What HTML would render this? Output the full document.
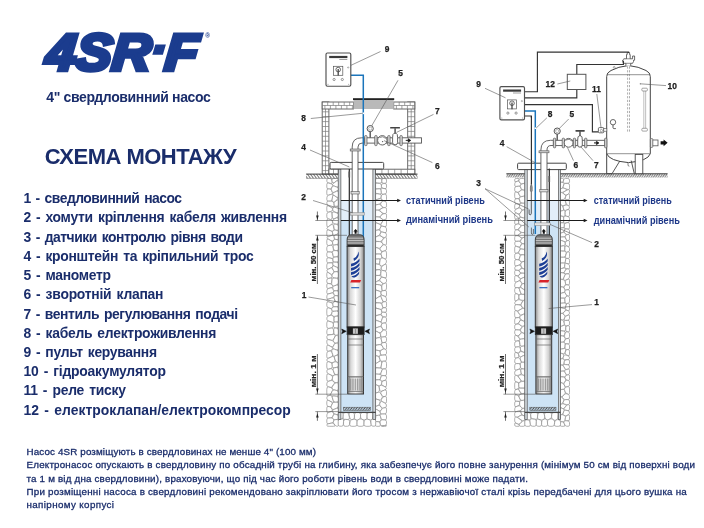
<!DOCTYPE html>
<html lang="uk"><head><meta charset="utf-8"><title>4SR-F</title>
<style>
html,body{margin:0;padding:0;background:#fff;}
body{width:704px;height:528px;position:relative;overflow:hidden;font-family:"Liberation Sans",sans-serif;color:#1a2d6b;}
.t{position:absolute;white-space:nowrap;line-height:1;}
.li{position:absolute;left:23.5px;word-spacing:1.5px;white-space:nowrap;font-weight:bold;font-size:13.9px;line-height:16px;height:16px;color:#1a2d6b;transform-origin:0 50%;}
.ft{position:absolute;left:26.5px;white-space:nowrap;font-size:9.8px;line-height:11px;height:11px;color:#1a2d6b;-webkit-text-stroke:0.3px #1a2d6b;transform-origin:0 50%;}
svg{position:absolute;left:0;top:0;}
</style></head><body><div id="wrap" style="position:absolute;left:0;top:0;width:704px;height:528px;will-change:transform;">

<svg width="704" height="528" viewBox="0 0 704 528" font-family="Liberation Sans, sans-serif">
<defs>
<pattern id="hatch" width="3" height="4.3" patternUnits="userSpaceOnUse"><path d="M-3 0L0 4.3M0 0L3 4.3M3 0L6 4.3" stroke="#6a6a6a" stroke-width="1"/></pattern>
<pattern id="hatch2g" width="2.3" height="3.7" patternUnits="userSpaceOnUse"><path d="M-2.3 3.7L0 0M0 3.7L2.3 0M2.3 3.7L4.6 0" stroke="#6a6a6a" stroke-width="0.9"/></pattern>
<pattern id="hatch2" width="2.6" height="3.2" patternUnits="userSpaceOnUse"><path d="M-0.6 3.2L2 0M2 3.2L4.6 0" stroke="#333" stroke-width="0.9"/></pattern>
<linearGradient id="silver" x1="0" x2="1" y1="0" y2="0"><stop offset="0" stop-color="#8c8c8c"/><stop offset="0.2" stop-color="#d9d9d9"/><stop offset="0.5" stop-color="#ffffff"/><stop offset="0.8" stop-color="#d2d2d2"/><stop offset="1" stop-color="#858585"/></linearGradient>
</defs>
<g fill="#fff" stroke="#808080" stroke-width="0.62" stroke-linejoin="round"><path d="M326.8 179.8Q326.8 178.5 328.3 178.5L330.1 178.5Q331.5 178.6 331.8 180.1L332.2 182.2Q332.5 183.7 330.8 183.4L328.6 182.9Q326.9 182.6 326.9 181.4Z"/><path d="M331.5 188.1Q331.1 189.1 329.8 189.0L328.1 188.9Q326.8 188.8 326.8 187.0L326.8 184.5Q326.8 182.7 328.5 183.1L330.7 183.7Q332.3 184.1 332.4 184.6L332.6 185.1Q332.7 185.5 332.2 186.6Z"/><path d="M332.5 193.6Q332.4 193.9 330.7 194.5L328.5 195.2Q326.8 195.8 326.8 193.8L326.8 191.0Q326.8 188.9 328.1 189.0L329.8 189.1Q331.1 189.3 331.5 190.4L332.2 191.9Q332.6 193.1 332.6 193.3Z"/><path d="M332.2 199.2Q331.8 201.2 330.3 201.1L328.3 201.1Q326.8 201.1 326.8 199.5L326.9 197.5Q326.9 195.9 328.5 195.3L330.8 194.5Q332.4 193.9 332.6 194.2L332.8 194.5Q332.9 194.7 332.6 196.6Z"/><path d="M333.2 207.7Q332.8 208.2 331.0 207.2L328.6 205.9Q326.9 204.9 326.9 203.8L326.9 202.3Q326.8 201.2 328.3 201.2L330.3 201.2Q331.8 201.3 332.4 201.6L333.2 202.1Q333.8 202.5 334.0 203.6L334.1 205.2Q334.2 206.3 333.8 206.9Z"/><path d="M328.5 212.1Q326.8 212.6 326.8 210.3L326.8 207.2Q326.8 204.9 328.6 206.0L331.0 207.3Q332.7 208.3 332.7 209.1L332.6 210.1Q332.5 210.9 330.8 211.4Z"/><path d="M332.1 217.4Q332.1 219.9 330.5 219.5L328.4 218.9Q326.9 218.5 326.8 216.8L326.8 214.4Q326.8 212.7 328.4 212.3L330.5 211.8Q332.0 211.4 332.0 214.0Z"/><path d="M328.6 226.5Q326.8 227.9 326.8 225.1L326.8 221.4Q326.8 218.6 328.4 219.0L330.5 219.6Q332.1 220.0 332.3 221.1L332.6 222.4Q332.8 223.5 331.0 224.8Z"/><path d="M332.8 230.9Q332.2 231.4 330.6 230.7L328.5 229.9Q326.9 229.3 326.9 228.9L326.9 228.3Q326.9 227.9 328.6 226.6L331.0 224.8Q332.8 223.5 333.2 225.5L333.8 228.0Q334.3 229.9 333.6 230.4Z"/><path d="M328.7 236.5Q326.8 237.1 326.8 234.8L326.8 231.7Q326.8 229.3 328.4 230.0L330.6 230.8Q332.2 231.5 332.4 232.5L332.8 233.9Q333.1 235.0 331.2 235.6Z"/><path d="M333.1 240.8Q332.4 241.5 330.8 240.5L328.5 239.2Q326.9 238.3 326.9 237.9L326.9 237.5Q326.9 237.2 328.7 236.6L331.2 235.7Q333.1 235.1 333.3 235.2L333.6 235.4Q333.8 235.5 334.0 236.6L334.3 238.1Q334.5 239.3 333.9 239.9Z"/><path d="M328.6 245.5Q326.8 245.8 326.8 243.5L326.8 240.6Q326.8 238.3 328.5 239.3L330.7 240.6Q332.4 241.6 332.5 242.6L332.6 244.0Q332.6 245.0 330.9 245.2Z"/><path d="M332.6 251.5Q332.3 252.0 330.6 252.0L328.5 251.9Q326.8 251.8 326.8 250.0L326.8 247.7Q326.9 245.9 328.6 245.6L330.9 245.3Q332.7 245.1 332.9 246.7L333.3 248.8Q333.6 250.4 333.2 250.9Z"/><path d="M333.0 258.2Q332.9 258.6 331.1 258.2L328.7 257.8Q326.9 257.4 326.8 255.8L326.8 253.6Q326.8 251.9 328.5 252.0L330.6 252.1Q332.2 252.1 332.6 253.7L333.1 255.7Q333.5 257.3 333.3 257.7Z"/><path d="M332.8 262.5Q332.7 262.8 330.9 262.8L328.6 262.9Q326.9 263.0 326.8 261.3L326.8 259.1Q326.8 257.5 328.6 257.8L331.0 258.3Q332.8 258.7 332.9 259.7L333.0 261.0Q333.1 262.1 333.0 262.3Z"/><path d="M332.3 266.8Q332.0 267.4 330.4 268.1L328.4 269.1Q326.8 269.9 326.8 267.8L326.8 265.1Q326.8 263.0 328.6 263.0L330.9 262.9Q332.7 262.8 332.8 263.7L332.9 264.7Q332.9 265.6 332.7 266.1Z"/><path d="M332.5 274.0Q331.9 275.0 330.4 273.9L328.4 272.5Q326.9 271.5 326.9 271.0L326.9 270.4Q326.9 269.9 328.4 269.2L330.4 268.2Q332.0 267.5 332.6 268.8L333.4 270.5Q334.0 271.8 333.4 272.8Z"/><path d="M328.5 278.4Q326.8 278.7 326.8 276.6L326.8 273.7Q326.8 271.5 328.3 272.6L330.3 274.0Q331.8 275.1 332.0 275.8L332.2 276.9Q332.4 277.6 330.7 277.9Z"/><path d="M331.7 282.1Q331.5 283.9 330.1 283.7L328.2 283.4Q326.8 283.2 326.8 281.9L326.8 280.1Q326.8 278.8 328.5 278.5L330.6 278.2Q332.2 277.9 332.0 279.7Z"/><path d="M332.7 287.1Q332.6 287.4 330.9 287.8L328.6 288.4Q326.8 288.8 326.8 287.2L326.8 284.9Q326.8 283.3 328.2 283.5L330.1 283.8Q331.5 284.0 331.9 284.7L332.5 285.7Q332.9 286.4 332.8 286.7Z"/><path d="M333.4 292.1Q333.2 292.6 331.3 293.1L328.8 293.8Q326.8 294.3 326.8 292.6L326.9 290.5Q326.9 288.9 328.6 288.5L330.9 287.9Q332.6 287.5 332.9 288.5L333.3 289.9Q333.6 291.0 333.5 291.5Z"/><path d="M334.0 296.8Q333.8 297.3 331.7 298.0L328.9 299.0Q326.8 299.6 326.8 298.0L326.9 295.9Q326.9 294.3 328.8 293.8L331.3 293.2Q333.2 292.7 333.6 293.5L334.1 294.7Q334.5 295.5 334.3 296.1Z"/><path d="M333.4 302.5Q332.6 303.0 330.9 302.5L328.6 301.8Q326.9 301.3 326.9 300.8L326.9 300.2Q326.9 299.7 328.9 299.0L331.7 298.1Q333.8 297.4 334.2 298.6L334.7 300.1Q335.1 301.2 334.4 301.8Z"/><path d="M331.9 308.1Q331.4 308.7 330.1 308.3L328.2 307.7Q326.9 307.3 326.8 305.5L326.8 303.2Q326.8 301.4 328.6 301.9L330.9 302.6Q332.6 303.1 332.8 304.2L333.0 305.7Q333.1 306.8 332.6 307.3Z"/><path d="M331.6 313.8Q331.3 314.9 329.9 315.4L328.2 316.1Q326.8 316.6 326.8 313.8L326.8 310.1Q326.8 307.4 328.2 307.8L330.1 308.4Q331.4 308.8 331.7 309.6L332.0 310.6Q332.3 311.3 332.0 312.4Z"/><path d="M333.6 322.5Q333.5 322.6 331.5 322.0L328.8 321.1Q326.9 320.5 326.9 319.4L326.9 317.8Q326.9 316.7 328.2 316.2L329.9 315.5Q331.3 315.0 332.1 315.5L333.2 316.2Q334.0 316.6 334.0 318.3L334.0 320.5Q334.0 322.1 333.9 322.3Z"/><path d="M333.2 326.2Q333.1 327.6 331.3 328.0L328.7 328.4Q326.8 328.8 326.8 326.3L326.8 323.0Q326.8 320.6 328.8 321.2L331.5 322.1Q333.4 322.7 333.4 324.2Z"/><path d="M333.8 332.3Q334.0 334.2 331.9 334.5L329.0 334.8Q326.8 335.1 326.8 333.2L326.9 330.7Q326.9 328.9 328.7 328.5L331.3 328.1Q333.2 327.7 333.4 329.7Z"/><path d="M333.7 339.1Q332.9 340.7 331.1 340.2L328.7 339.6Q326.9 339.2 326.9 338.0L326.9 336.4Q326.9 335.2 329.0 334.9L331.9 334.6Q334.0 334.3 334.5 334.6L335.1 335.0Q335.6 335.3 334.8 336.9Z"/><path d="M333.3 346.2Q332.6 347.4 330.9 346.5L328.6 345.3Q326.9 344.4 326.9 342.9L326.8 340.8Q326.8 339.3 328.7 339.7L331.1 340.3Q332.9 340.8 333.5 341.5L334.3 342.5Q334.8 343.3 334.2 344.5Z"/><path d="M328.2 351.3Q326.8 351.6 326.8 349.4L326.8 346.6Q326.8 344.5 328.6 345.4L330.8 346.6Q332.6 347.5 332.6 347.8L332.7 348.3Q332.7 348.6 332.3 349.2L331.8 350.0Q331.4 350.6 330.1 350.9Z"/><path d="M332.6 354.5Q333.1 356.1 331.2 357.0L328.7 358.1Q326.8 359.0 326.8 356.8L326.8 353.8Q326.8 351.6 328.2 351.4L330.1 351.0Q331.4 350.7 331.9 352.3Z"/><path d="M333.1 362.4Q332.0 362.8 330.4 362.3L328.4 361.6Q326.9 361.1 326.9 360.5L326.9 359.6Q326.9 359.0 328.7 358.2L331.3 357.0Q333.2 356.2 333.4 356.3L333.6 356.4Q333.9 356.4 334.4 358.0L335.1 360.0Q335.6 361.5 334.5 361.9Z"/><path d="M332.3 366.6Q332.4 368.2 330.7 368.6L328.5 369.2Q326.8 369.6 326.8 367.0L326.8 363.7Q326.8 361.2 328.4 361.7L330.4 362.4Q332.0 362.9 332.1 364.5Z"/><path d="M333.3 375.5Q332.7 375.8 331.0 375.0L328.6 373.9Q326.9 373.1 326.9 372.0L326.9 370.7Q326.8 369.6 328.5 369.3L330.8 368.7Q332.4 368.3 333.2 370.3L334.1 372.9Q334.9 374.8 334.2 375.1Z"/><path d="M328.4 381.3Q326.8 381.8 326.8 379.2L326.8 375.7Q326.8 373.1 328.6 374.0L330.9 375.1Q332.7 375.9 332.5 377.2L332.3 378.8Q332.1 380.1 330.5 380.6Z"/><path d="M332.6 386.1Q331.6 387.6 330.2 387.3L328.3 386.8Q326.8 386.5 326.8 385.1L326.9 383.3Q326.9 381.9 328.4 381.4L330.5 380.7Q332.1 380.2 333.0 381.0L334.1 382.0Q335.0 382.8 334.0 384.2Z"/><path d="M331.0 393.5Q330.1 395.2 329.1 395.5L327.8 395.9Q326.8 396.3 326.8 393.4L326.8 389.5Q326.8 386.6 328.3 386.9L330.2 387.4Q331.6 387.7 332.0 388.3L332.6 389.0Q333.0 389.6 332.1 391.3Z"/><path d="M333.1 402.4Q332.8 402.5 331.0 401.6L328.7 400.5Q326.9 399.6 326.9 398.6L326.9 397.3Q326.9 396.4 327.8 396.0L329.1 395.6Q330.1 395.3 330.6 395.5L331.2 395.7Q331.7 395.8 332.3 397.8L333.2 400.3Q333.8 402.2 333.5 402.3Z"/><path d="M331.4 405.6Q330.7 407.0 329.6 406.7L328.0 406.4Q326.8 406.1 326.8 404.2L326.8 401.6Q326.8 399.7 328.6 400.5L331.0 401.7Q332.8 402.6 332.2 403.9Z"/><path d="M328.5 412.5Q326.8 413.3 326.8 411.1L326.8 408.3Q326.8 406.2 328.0 406.4L329.6 406.8Q330.7 407.1 331.3 408.0L332.0 409.2Q332.5 410.1 332.5 410.3L332.4 410.6Q332.3 410.8 330.6 411.6Z"/><path d="M332.6 416.7Q332.0 417.8 330.5 417.9L328.4 418.0Q326.8 418.0 326.8 416.6L326.9 414.8Q326.9 413.3 328.5 412.6L330.7 411.7Q332.3 410.9 332.8 411.8L333.4 413.0Q333.9 413.9 333.4 415.1Z"/><path d="M333.3 421.8Q333.0 422.7 331.2 423.1L328.7 423.7Q326.8 424.1 326.8 422.3L326.8 419.9Q326.9 418.1 328.4 418.1L330.5 418.0Q332.0 417.9 332.6 418.5L333.4 419.2Q333.9 419.8 333.7 420.7Z"/><path d="M335.0 425.2Q335.9 426.3 333.2 426.3L329.6 426.3Q326.9 426.3 326.9 425.6L326.9 424.8Q326.9 424.1 328.7 423.7L331.2 423.2Q333.0 422.8 333.9 423.9Z"/><path d="M331.9 180.1Q331.6 178.5 333.7 178.5L336.4 178.5Q338.4 178.5 338.4 178.9L338.4 179.3Q338.4 179.6 336.7 180.8L334.4 182.5Q332.6 183.7 332.3 182.1Z"/><path d="M336.6 181.0Q338.5 179.7 338.5 182.1L338.5 185.3Q338.5 187.8 336.8 187.1L334.5 186.2Q332.8 185.5 332.7 185.1L332.5 184.5Q332.4 184.1 334.2 182.8Z"/><path d="M336.7 187.1Q338.4 187.8 338.4 188.6L338.4 189.6Q338.4 190.3 336.7 191.1L334.4 192.2Q332.7 193.0 332.2 191.9L331.6 190.3Q331.2 189.2 331.6 188.1L332.3 186.7Q332.7 185.6 334.5 186.2Z"/><path d="M336.7 191.2Q338.5 190.4 338.5 192.8L338.5 196.0Q338.5 198.4 336.8 197.3L334.6 195.8Q333.0 194.6 332.8 194.4L332.7 194.1Q332.5 193.9 332.6 193.7L332.7 193.3Q332.7 193.1 334.5 192.3Z"/><path d="M336.8 197.3Q338.4 198.5 337.1 199.6L335.3 201.2Q333.9 202.4 333.3 202.0L332.5 201.5Q331.9 201.2 332.2 199.2L332.6 196.6Q333.0 194.7 334.6 195.8Z"/><path d="M337.1 200.1Q338.5 199.0 338.5 201.2L338.5 204.2Q338.5 206.4 337.2 206.4L335.6 206.3Q334.3 206.3 334.2 205.2L334.1 203.6Q333.9 202.5 335.3 201.4Z"/><path d="M337.2 206.4Q338.5 206.5 338.5 208.6L338.5 211.3Q338.5 213.4 336.7 212.7L334.4 211.6Q332.6 210.9 332.7 210.1L332.8 209.1Q332.8 208.3 333.3 207.7L333.9 207.0Q334.3 206.4 335.6 206.4Z"/><path d="M336.5 212.9Q338.4 213.5 338.4 214.5L338.4 215.9Q338.5 216.9 336.7 217.7L334.3 218.7Q332.5 219.4 332.4 217.0L332.2 213.8Q332.1 211.4 334.0 212.0Z"/><path d="M336.6 217.9Q338.5 217.0 338.5 219.3L338.5 222.3Q338.5 224.6 336.9 224.3L334.9 224.0Q333.4 223.8 333.0 222.6L332.5 221.1Q332.2 220.0 334.0 219.1Z"/><path d="M336.9 224.4Q338.5 224.7 338.5 226.4L338.5 228.8Q338.5 230.6 337.2 230.4L335.6 230.1Q334.3 229.9 334.1 228.1L333.7 225.7Q333.4 223.9 334.9 224.1Z"/><path d="M337.2 230.5Q338.4 230.7 338.4 231.6L338.4 232.8Q338.4 233.7 337.1 234.2L335.2 234.9Q333.8 235.4 333.6 235.3L333.4 235.1Q333.1 235.0 332.9 233.9L332.5 232.5Q332.3 231.5 332.9 231.0L333.7 230.5Q334.3 230.0 335.6 230.2Z"/><path d="M337.1 234.3Q338.5 233.8 338.5 235.5L338.5 237.9Q338.5 239.7 337.3 239.6L335.8 239.4Q334.6 239.2 334.4 238.1L334.1 236.6Q333.9 235.5 335.2 235.0Z"/><path d="M337.3 239.7Q338.5 239.8 338.5 241.2L338.4 243.0Q338.4 244.4 336.8 244.7L334.6 245.0Q333.0 245.2 332.8 244.1L332.6 242.7Q332.5 241.6 333.1 240.9L333.9 240.0Q334.6 239.3 335.7 239.5Z"/><path d="M336.8 244.7Q338.5 244.5 338.5 246.4L338.5 248.9Q338.5 250.7 337.0 250.6L335.1 250.5Q333.7 250.4 333.5 248.8L333.2 246.8Q333.0 245.3 334.6 245.1Z"/><path d="M337.0 250.7Q338.5 250.8 338.5 252.5L338.5 254.7Q338.5 256.4 337.0 256.7L335.0 257.0Q333.6 257.3 333.2 255.7L332.7 253.6Q332.3 252.1 332.7 251.6L333.3 250.9Q333.7 250.5 335.1 250.6Z"/><path d="M337.0 256.8Q338.5 256.5 338.5 258.2L338.5 260.5Q338.5 262.2 336.9 262.2L334.8 262.1Q333.2 262.0 333.1 261.0L333.0 259.7Q332.9 258.6 333.1 258.3L333.4 257.7Q333.6 257.4 335.0 257.1Z"/><path d="M336.9 262.2Q338.4 262.3 338.5 264.0L338.5 266.3Q338.5 268.0 336.8 267.3L334.7 266.3Q333.1 265.5 333.0 264.7L332.9 263.6Q332.8 262.8 332.9 262.6L333.1 262.3Q333.2 262.1 334.8 262.2Z"/><path d="M336.8 267.3Q338.4 268.1 338.4 269.1L338.4 270.4Q338.5 271.4 337.1 271.5L335.4 271.7Q334.1 271.8 333.5 270.5L332.7 268.8Q332.1 267.5 332.4 266.9L332.7 266.2Q333.0 265.6 334.7 266.3Z"/><path d="M337.1 271.6Q338.5 271.5 338.5 273.5L338.5 276.3Q338.5 278.4 336.7 278.2L334.3 277.9Q332.5 277.6 332.3 276.8L332.1 275.8Q331.9 275.0 332.6 274.1L333.4 272.9Q334.1 271.9 335.4 271.8Z"/><path d="M336.6 278.3Q338.5 278.5 338.5 280.2L338.5 282.5Q338.5 284.3 336.8 284.9L334.6 285.7Q333.0 286.4 332.6 285.6L332.0 284.7Q331.5 283.9 331.8 282.1L332.1 279.7Q332.3 277.9 334.1 278.1Z"/><path d="M336.8 285.0Q338.5 284.3 338.5 286.2L338.5 288.8Q338.5 290.7 337.0 290.8L335.1 290.9Q333.7 290.9 333.4 289.9L333.0 288.5Q332.7 287.4 332.8 287.1L332.9 286.7Q333.0 286.4 334.7 285.8Z"/><path d="M337.0 290.8Q338.5 290.8 338.5 292.3L338.5 294.3Q338.5 295.9 337.3 295.7L335.8 295.6Q334.6 295.5 334.2 294.6L333.7 293.5Q333.3 292.6 333.5 292.2L333.6 291.5Q333.7 291.0 335.2 290.9Z"/><path d="M337.3 295.8Q338.5 295.9 338.5 297.8L338.5 300.4Q338.5 302.3 337.5 301.9L336.2 301.5Q335.2 301.2 334.8 300.0L334.3 298.5Q333.9 297.4 334.1 296.8L334.4 296.1Q334.6 295.6 335.8 295.7Z"/><path d="M337.5 302.0Q338.4 302.3 338.5 303.6L338.5 305.4Q338.5 306.7 336.9 306.7L334.8 306.7Q333.2 306.7 333.1 305.6L332.9 304.2Q332.7 303.1 333.5 302.6L334.4 301.8Q335.2 301.3 336.2 301.6Z"/><path d="M336.9 306.8Q338.4 306.8 338.4 308.0L338.4 309.7Q338.4 311.0 336.6 311.1L334.2 311.2Q332.4 311.2 332.1 310.5L331.8 309.5Q331.5 308.8 332.0 308.2L332.7 307.4Q333.2 306.8 334.8 306.8Z"/><path d="M336.6 311.1Q338.5 311.1 338.5 312.5L338.4 314.4Q338.4 315.9 337.1 316.1L335.4 316.3Q334.0 316.5 333.2 316.1L332.1 315.4Q331.3 315.0 331.7 313.9L332.1 312.4Q332.4 311.3 334.2 311.3Z"/><path d="M337.1 316.1Q338.5 315.9 338.5 317.7L338.5 320.1Q338.5 321.9 337.2 322.0L335.4 322.0Q334.1 322.1 334.1 320.5L334.1 318.3Q334.0 316.6 335.4 316.4Z"/><path d="M337.1 322.0Q338.5 322.0 338.5 323.8L338.5 326.3Q338.5 328.2 337.0 328.1L335.0 327.9Q333.5 327.8 333.5 326.3L333.5 324.3Q333.5 322.7 333.7 322.6L333.9 322.4Q334.1 322.2 335.4 322.1Z"/><path d="M337.0 328.2Q338.5 328.3 338.5 330.4L338.5 333.1Q338.5 335.2 337.6 335.2L336.5 335.2Q335.6 335.3 335.2 334.9L334.5 334.5Q334.1 334.2 333.9 332.3L333.7 329.8Q333.5 327.9 335.0 328.0Z"/><path d="M337.6 335.3Q338.5 335.3 338.5 337.6L338.5 340.6Q338.5 342.9 337.4 343.0L336.0 343.1Q334.9 343.2 334.3 342.5L333.6 341.5Q333.0 340.7 333.8 339.1L334.8 337.0Q335.6 335.4 336.5 335.4Z"/><path d="M337.4 343.1Q338.5 343.0 338.5 345.3L338.5 348.3Q338.5 350.6 336.8 350.0L334.5 349.2Q332.8 348.6 332.8 348.2L332.7 347.8Q332.7 347.4 333.3 346.2L334.2 344.6Q334.9 343.3 336.0 343.2Z"/><path d="M336.7 350.1Q338.4 350.6 338.4 351.8L338.4 353.3Q338.4 354.4 337.1 355.0L335.3 355.8Q333.9 356.3 333.7 356.3L333.4 356.1Q333.2 356.1 332.7 354.4L332.0 352.3Q331.5 350.7 331.9 350.1L332.4 349.3Q332.8 348.7 334.5 349.3Z"/><path d="M337.1 355.1Q338.5 354.5 338.5 357.1L338.5 360.5Q338.5 363.1 337.6 362.6L336.5 362.0Q335.7 361.5 335.2 360.0L334.5 358.0Q333.9 356.4 335.3 355.9Z"/><path d="M337.6 362.7Q338.4 363.1 338.4 364.3L338.5 365.8Q338.5 366.9 336.7 367.3L334.3 367.8Q332.5 368.2 332.4 366.6L332.2 364.5Q332.0 362.9 333.1 362.5L334.6 362.0Q335.7 361.6 336.5 362.1Z"/><path d="M336.7 367.4Q338.5 367.0 338.5 369.3L338.5 372.3Q338.5 374.6 337.4 374.7L336.0 374.7Q334.9 374.8 334.2 372.8L333.2 370.2Q332.5 368.3 334.3 367.9Z"/><path d="M337.4 374.8Q338.5 374.7 338.5 377.1L338.5 380.3Q338.5 382.7 337.4 382.7L336.1 382.7Q335.0 382.7 334.2 381.9L333.0 380.9Q332.2 380.1 332.4 378.9L332.6 377.2Q332.8 375.9 333.4 375.6L334.3 375.2Q334.9 374.9 336.0 374.8Z"/><path d="M337.4 382.8Q338.5 382.8 338.5 385.2L338.5 388.5Q338.5 391.0 336.8 390.5L334.7 390.0Q333.1 389.6 332.7 389.0L332.1 388.2Q331.7 387.6 332.7 386.2L334.0 384.3Q335.0 382.8 336.1 382.8Z"/><path d="M336.8 390.6Q338.4 391.0 338.4 392.7L338.5 394.8Q338.5 396.4 336.4 396.2L333.8 395.9Q331.8 395.7 331.3 395.6L330.7 395.4Q330.2 395.2 331.0 393.6L332.2 391.3Q333.0 389.7 334.7 390.1Z"/><path d="M336.5 396.3Q338.5 396.5 338.5 398.1L338.5 400.3Q338.5 402.0 337.1 402.1L335.2 402.2Q333.9 402.2 333.2 400.3L332.4 397.7Q331.8 395.8 333.8 396.0Z"/><path d="M337.1 402.2Q338.5 402.1 338.5 403.7L338.4 405.8Q338.4 407.4 336.7 408.2L334.4 409.2Q332.6 410.0 332.1 409.1L331.4 407.9Q330.8 407.0 331.4 405.7L332.3 403.9Q332.9 402.6 333.2 402.5L333.6 402.4Q333.8 402.4 335.2 402.3Z"/><path d="M336.7 408.3Q338.5 407.5 338.5 409.7L338.5 412.8Q338.5 415.1 337.1 414.7L335.4 414.2Q334.0 413.9 333.5 413.0L332.9 411.8Q332.4 410.9 332.5 410.7L332.6 410.4Q332.6 410.1 334.4 409.3Z"/><path d="M337.1 414.8Q338.5 415.1 338.5 416.4L338.5 418.0Q338.5 419.3 337.1 419.4L335.3 419.6Q334.0 419.7 333.5 419.1L332.7 418.4Q332.1 417.9 332.7 416.7L333.4 415.1Q334.0 414.0 335.3 414.3Z"/><path d="M337.1 419.5Q338.5 419.4 338.5 421.4L338.5 424.2Q338.5 426.3 337.7 426.2L336.7 426.2Q335.9 426.2 335.1 425.2L334.0 423.8Q333.1 422.8 333.4 421.9L333.8 420.7Q334.0 419.8 335.4 419.7Z"/></g>
<g fill="#fff" stroke="#808080" stroke-width="0.62" stroke-linejoin="round"><path d="M375.2 179.8Q375.1 178.5 377.2 178.5L379.8 178.5Q381.8 178.5 381.8 179.9L381.8 181.8Q381.9 183.2 379.8 183.1L377.2 183.0Q375.2 182.9 375.2 181.6Z"/><path d="M381.1 188.4Q380.9 188.6 379.2 188.7L376.9 188.9Q375.1 189.0 375.1 187.2L375.1 184.8Q375.1 183.0 377.0 183.2L379.5 183.5Q381.4 183.8 381.4 185.0L381.4 186.7Q381.4 188.0 381.3 188.2Z"/><path d="M381.3 192.7Q381.4 194.4 379.5 194.1L377.0 193.6Q375.2 193.3 375.1 192.0L375.1 190.3Q375.1 189.1 376.9 189.0L379.2 188.8Q380.9 188.7 381.1 190.4Z"/><path d="M381.1 197.2Q380.9 198.4 379.2 198.8L376.9 199.5Q375.1 199.9 375.1 198.0L375.1 195.3Q375.1 193.4 377.0 193.7L379.5 194.2Q381.4 194.5 381.3 195.7Z"/><path d="M380.9 203.0Q380.0 204.0 378.6 204.3L376.6 204.7Q375.1 205.0 375.1 203.5L375.2 201.5Q375.2 200.0 376.9 199.5L379.2 198.9Q381.0 198.5 381.5 199.1L382.2 200.0Q382.8 200.7 381.9 201.7Z"/><path d="M380.1 209.3Q378.9 210.0 377.7 210.1L376.3 210.1Q375.1 210.1 375.1 208.6L375.1 206.6Q375.1 205.1 376.6 204.8L378.6 204.4Q380.0 204.1 380.9 205.1L382.0 206.6Q382.9 207.6 381.7 208.4Z"/><path d="M380.5 216.0Q379.5 217.0 378.2 216.9L376.4 216.9Q375.1 216.8 375.1 214.8L375.1 212.2Q375.1 210.2 376.3 210.2L377.7 210.2Q378.9 210.2 380.1 211.2L381.8 212.6Q383.1 213.6 382.0 214.6Z"/><path d="M381.5 223.3Q380.6 224.7 379.0 224.0L376.8 223.0Q375.2 222.3 375.1 220.6L375.1 218.5Q375.1 216.9 376.4 216.9L378.2 217.0Q379.5 217.1 380.6 218.0L382.2 219.1Q383.4 220.0 382.5 221.4Z"/><path d="M380.0 228.5Q379.5 229.6 378.2 229.9L376.5 230.3Q375.1 230.5 375.1 228.1L375.1 224.8Q375.1 222.3 376.8 223.1L379.0 224.0Q380.6 224.8 380.8 225.1L381.0 225.5Q381.2 225.9 380.7 227.0Z"/><path d="M379.9 234.3Q379.5 235.3 378.2 235.8L376.5 236.6Q375.1 237.2 375.1 235.2L375.1 232.6Q375.1 230.6 376.5 230.3L378.2 230.0Q379.5 229.7 380.0 230.3L380.5 231.2Q380.9 231.9 380.5 232.9Z"/><path d="M382.1 240.5Q381.3 241.6 379.5 241.5L377.0 241.4Q375.1 241.3 375.2 240.1L375.2 238.5Q375.2 237.2 376.5 236.7L378.2 235.9Q379.6 235.4 380.9 236.1L382.7 237.1Q384.0 237.9 383.2 239.0Z"/><path d="M380.7 247.4Q379.6 248.6 378.3 248.2L376.5 247.6Q375.1 247.2 375.1 245.4L375.1 243.1Q375.1 241.4 377.0 241.5L379.5 241.6Q381.3 241.7 381.9 242.6L382.7 243.6Q383.2 244.5 382.1 245.7Z"/><path d="M381.2 253.3Q380.9 253.9 379.2 254.0L376.9 254.0Q375.1 254.0 375.1 252.0L375.1 249.3Q375.1 247.2 376.5 247.7L378.3 248.3Q379.6 248.8 380.2 249.7L381.1 250.9Q381.7 251.8 381.5 252.5Z"/><path d="M380.8 258.5Q380.3 258.9 378.8 258.9L376.7 259.0Q375.2 259.1 375.1 257.6L375.1 255.6Q375.1 254.1 376.9 254.1L379.2 254.1Q380.9 254.0 381.3 255.1L381.7 256.6Q382.1 257.7 381.5 258.1Z"/><path d="M379.6 262.7Q379.3 264.4 378.1 264.2L376.4 263.9Q375.1 263.7 375.1 262.3L375.1 260.5Q375.1 259.1 376.7 259.1L378.8 259.0Q380.3 258.9 380.0 260.6Z"/><path d="M381.0 268.6Q380.8 269.5 379.1 269.7L376.9 269.8Q375.1 270.0 375.1 268.1L375.1 265.6Q375.1 263.7 376.4 264.0L378.1 264.3Q379.4 264.5 380.0 265.1L380.8 265.9Q381.4 266.5 381.2 267.4Z"/><path d="M380.7 273.7Q380.6 275.4 378.9 275.4L376.8 275.4Q375.1 275.4 375.1 273.8L375.1 271.7Q375.2 270.1 376.9 269.9L379.1 269.7Q380.8 269.6 380.8 271.3Z"/><path d="M379.9 279.2Q379.2 280.2 378.0 280.8L376.4 281.7Q375.1 282.4 375.1 280.3L375.1 277.6Q375.1 275.5 376.8 275.5L378.9 275.5Q380.6 275.5 380.9 276.0L381.2 276.5Q381.5 277.0 380.8 277.9Z"/><path d="M382.1 284.9Q381.6 285.3 379.7 284.9L377.1 284.5Q375.2 284.1 375.2 283.6L375.2 283.0Q375.2 282.5 376.4 281.8L378.0 280.9Q379.3 280.3 380.4 281.4L382.0 282.8Q383.1 283.9 382.7 284.3Z"/><path d="M381.3 291.4Q381.0 291.7 379.2 291.1L376.9 290.3Q375.2 289.7 375.2 288.0L375.1 285.8Q375.1 284.2 377.1 284.5L379.7 285.0Q381.6 285.4 381.7 287.0L381.9 289.2Q382.0 290.8 381.7 291.1Z"/><path d="M376.8 298.1Q375.1 299.2 375.1 296.4L375.1 292.6Q375.1 289.7 376.9 290.4L379.2 291.2Q381.0 291.8 381.0 292.7L381.0 294.0Q381.1 294.9 380.9 295.1L380.7 295.4Q380.6 295.6 379.0 296.7Z"/><path d="M382.1 302.7Q381.7 303.1 379.7 302.9L377.1 302.8Q375.2 302.7 375.2 301.6L375.2 300.3Q375.2 299.3 376.8 298.2L379.0 296.8Q380.6 295.7 381.4 297.6L382.4 300.1Q383.1 301.9 382.7 302.3Z"/><path d="M381.8 309.1Q381.4 309.7 379.5 309.1L377.0 308.4Q375.2 307.8 375.2 306.3L375.1 304.2Q375.1 302.7 377.1 302.9L379.7 303.0Q381.7 303.1 382.0 304.5L382.5 306.4Q382.8 307.7 382.4 308.3Z"/><path d="M381.3 313.7Q381.0 314.4 379.2 314.8L376.9 315.4Q375.1 315.9 375.1 313.5L375.1 310.3Q375.1 307.9 377.0 308.4L379.5 309.2Q381.4 309.8 381.5 310.5L381.7 311.5Q381.9 312.2 381.6 312.9Z"/><path d="M381.6 320.5Q381.1 322.1 379.3 321.4L376.9 320.5Q375.2 319.8 375.2 318.7L375.2 317.1Q375.2 316.0 376.9 315.5L379.2 314.9Q381.0 314.5 381.5 315.2L382.2 316.2Q382.8 316.9 382.3 318.4Z"/><path d="M381.3 325.3Q381.1 326.2 379.3 326.8L376.9 327.5Q375.1 328.1 375.1 325.6L375.1 322.4Q375.1 319.9 376.9 320.6L379.3 321.5Q381.0 322.2 381.3 322.5L381.6 323.0Q381.9 323.3 381.6 324.2Z"/><path d="M381.2 332.3Q380.3 333.3 378.8 332.5L376.7 331.4Q375.2 330.6 375.2 329.9L375.2 328.9Q375.2 328.2 376.9 327.6L379.3 326.8Q381.1 326.3 381.7 327.4L382.5 328.8Q383.1 329.9 382.3 330.9Z"/><path d="M376.8 338.0Q375.1 338.4 375.1 336.1L375.1 333.0Q375.1 330.7 376.7 331.5L378.7 332.6Q380.3 333.4 380.5 334.5L380.7 336.0Q380.8 337.2 379.1 337.5Z"/><path d="M381.4 343.9Q381.2 344.3 379.4 344.6L377.0 345.0Q375.1 345.4 375.1 343.3L375.1 340.5Q375.2 338.5 376.9 338.1L379.1 337.6Q380.9 337.3 381.2 338.9L381.6 341.2Q381.9 342.9 381.7 343.3Z"/><path d="M381.2 350.2Q380.1 350.8 378.6 350.5L376.6 350.2Q375.2 350.0 375.2 348.6L375.2 346.8Q375.2 345.4 377.0 345.1L379.4 344.7Q381.2 344.4 382.0 345.7L383.0 347.4Q383.7 348.7 382.7 349.3Z"/><path d="M379.4 356.2Q379.0 356.5 377.8 356.2L376.3 355.8Q375.2 355.5 375.1 353.9L375.1 351.7Q375.1 350.1 376.6 350.3L378.6 350.6Q380.1 350.9 380.2 352.2L380.4 354.0Q380.5 355.3 380.0 355.6Z"/><path d="M376.7 363.1Q375.1 364.0 375.1 361.5L375.1 358.1Q375.1 355.6 376.3 355.9L377.8 356.3Q379.0 356.6 379.4 357.9L380.0 359.5Q380.4 360.8 378.8 361.8Z"/><path d="M381.2 366.1Q380.9 368.1 379.2 368.0L376.9 367.8Q375.1 367.7 375.1 366.6L375.2 365.2Q375.2 364.1 376.7 363.1L378.9 361.8Q380.4 360.9 380.9 361.0L381.5 361.2Q381.9 361.4 381.6 363.4Z"/><path d="M381.0 372.7Q380.3 374.3 378.8 374.2L376.7 374.1Q375.1 373.9 375.1 372.1L375.1 369.6Q375.1 367.8 376.9 367.9L379.2 368.1Q380.9 368.2 381.4 368.4L382.0 368.7Q382.5 369.0 381.8 370.6Z"/><path d="M380.5 378.4Q380.0 379.7 378.6 379.7L376.6 379.8Q375.1 379.8 375.1 378.1L375.1 375.7Q375.1 374.0 376.7 374.1L378.8 374.3Q380.3 374.4 380.7 374.7L381.1 375.2Q381.5 375.5 381.0 376.7Z"/><path d="M379.7 385.7Q379.1 386.0 377.9 385.5L376.3 384.9Q375.2 384.4 375.2 383.0L375.1 381.2Q375.1 379.9 376.6 379.9L378.6 379.8Q380.0 379.8 380.6 380.3L381.4 380.9Q382.0 381.3 381.8 382.4L381.5 383.9Q381.3 385.0 380.6 385.3Z"/><path d="M379.4 390.0Q379.5 391.7 378.2 392.2L376.4 392.8Q375.1 393.3 375.1 390.6L375.1 387.1Q375.1 384.5 376.3 385.0L377.9 385.6Q379.1 386.1 379.2 387.8Z"/><path d="M381.3 399.3Q380.6 400.4 379.0 399.9L376.8 399.2Q375.1 398.7 375.1 397.1L375.1 395.0Q375.2 393.3 376.5 392.9L378.2 392.3Q379.5 391.8 380.5 393.3L381.8 395.3Q382.8 396.8 382.1 397.9Z"/><path d="M376.4 406.2Q375.1 406.8 375.1 404.4L375.1 401.2Q375.1 398.8 376.8 399.3L379.0 400.0Q380.6 400.5 380.2 401.8L379.7 403.5Q379.3 404.9 378.1 405.5Z"/><path d="M380.7 410.6Q380.1 411.5 378.6 410.6L376.6 409.5Q375.2 408.6 375.2 408.1L375.2 407.4Q375.2 406.9 376.4 406.3L378.1 405.5Q379.3 405.0 380.2 406.0L381.3 407.4Q382.2 408.4 381.6 409.3Z"/><path d="M376.6 415.6Q375.1 415.8 375.1 413.7L375.1 410.8Q375.1 408.6 376.6 409.5L378.6 410.7Q380.1 411.6 380.2 412.3L380.4 413.3Q380.5 414.1 380.3 414.3L380.1 414.6Q380.0 414.9 378.5 415.2Z"/><path d="M380.3 421.2Q379.8 421.8 378.4 421.7L376.5 421.5Q375.1 421.4 375.1 419.7L375.1 417.6Q375.1 415.9 376.6 415.6L378.6 415.3Q380.0 415.0 380.4 416.4L380.9 418.3Q381.3 419.7 380.8 420.3Z"/><path d="M380.4 425.0Q380.6 426.3 379.0 426.3L376.8 426.3Q375.2 426.3 375.1 424.8L375.1 422.9Q375.1 421.5 376.5 421.6L378.4 421.8Q379.8 421.9 380.0 423.2Z"/><path d="M381.9 179.9Q381.9 178.5 383.3 178.5L385.1 178.5Q386.5 178.5 386.5 180.0L386.5 181.9Q386.5 183.3 385.1 183.3L383.3 183.2Q381.9 183.2 381.9 181.8Z"/><path d="M385.0 183.5Q386.5 183.4 386.5 185.0L386.5 187.3Q386.5 188.9 385.0 188.6L383.0 188.3Q381.5 188.0 381.5 186.7L381.5 185.0Q381.5 183.8 383.0 183.6Z"/><path d="M385.0 188.7Q386.5 189.0 386.5 190.4L386.5 192.3Q386.5 193.8 385.0 194.0L383.0 194.3Q381.5 194.5 381.4 192.7L381.2 190.4Q381.0 188.7 381.2 188.5L381.4 188.3Q381.5 188.1 383.0 188.4Z"/><path d="M385.0 194.1Q386.5 193.9 386.5 196.3L386.5 199.4Q386.5 201.8 385.4 201.5L383.9 201.0Q382.8 200.7 382.3 200.0L381.6 199.1Q381.0 198.4 381.2 197.2L381.4 195.7Q381.5 194.6 383.0 194.4Z"/><path d="M385.4 201.6Q386.5 201.9 386.5 203.6L386.5 205.8Q386.5 207.4 385.4 207.5L384.0 207.5Q383.0 207.6 382.1 206.5L381.0 205.1Q380.1 204.0 380.9 203.1L382.0 201.8Q382.8 200.8 383.9 201.1Z"/><path d="M385.4 207.6Q386.5 207.5 386.5 209.3L386.5 211.7Q386.5 213.5 385.5 213.5L384.1 213.5Q383.1 213.6 381.9 212.5L380.2 211.1Q378.9 210.1 380.1 209.4L381.8 208.4Q383.0 207.7 384.0 207.6Z"/><path d="M385.5 213.6Q386.5 213.6 386.5 215.2L386.5 217.4Q386.5 219.0 385.5 219.3L384.3 219.7Q383.4 219.9 382.3 219.1L380.7 217.9Q379.5 217.0 380.6 216.0L382.1 214.7Q383.1 213.7 384.1 213.7Z"/><path d="M385.6 219.4Q386.5 219.1 386.5 221.5L386.5 224.7Q386.5 227.1 384.9 226.7L382.8 226.2Q381.3 225.8 381.1 225.5L380.9 225.0Q380.7 224.7 381.5 223.3L382.6 221.4Q383.4 220.0 384.3 219.8Z"/><path d="M384.9 226.8Q386.4 227.2 386.5 228.9L386.5 231.2Q386.5 233.0 384.8 232.6L382.6 232.1Q381.0 231.8 380.6 231.1L380.0 230.3Q379.6 229.6 380.1 228.5L380.8 227.0Q381.2 225.9 382.8 226.3Z"/><path d="M384.8 232.7Q386.4 233.0 386.4 234.2L386.4 235.6Q386.4 236.8 385.7 237.1L384.8 237.5Q384.1 237.8 382.7 237.0L381.0 236.1Q379.6 235.3 380.0 234.3L380.6 232.9Q381.0 231.9 382.6 232.2Z"/><path d="M385.8 237.2Q386.5 236.9 386.5 239.4L386.5 242.9Q386.5 245.5 385.5 245.2L384.3 244.7Q383.3 244.4 382.7 243.6L382.0 242.5Q381.4 241.7 382.2 240.5L383.3 239.0Q384.1 237.9 384.8 237.6Z"/><path d="M385.5 245.3Q386.5 245.6 386.5 247.0L386.5 248.9Q386.5 250.3 385.1 250.7L383.2 251.3Q381.8 251.8 381.2 250.8L380.3 249.6Q379.7 248.7 380.8 247.4L382.2 245.8Q383.3 244.5 384.2 244.8Z"/><path d="M385.1 250.8Q386.5 250.4 386.5 253.1L386.5 256.8Q386.5 259.5 385.2 259.0L383.4 258.2Q382.1 257.7 381.8 256.6L381.4 255.1Q381.0 254.0 381.3 253.4L381.6 252.5Q381.8 251.9 383.2 251.4Z"/><path d="M385.1 259.1Q386.4 259.6 386.4 260.7L386.4 262.2Q386.4 263.3 384.9 264.2L383.0 265.5Q381.5 266.4 380.8 265.8L380.0 265.0Q379.4 264.4 379.7 262.8L380.1 260.6Q380.4 258.9 380.9 258.6L381.6 258.1Q382.1 257.8 383.4 258.3Z"/><path d="M385.0 264.3Q386.5 263.4 386.5 265.8L386.5 269.0Q386.5 271.3 384.9 270.9L382.8 270.4Q381.3 270.0 381.3 269.0L381.4 267.6Q381.5 266.5 383.0 265.6Z"/><path d="M384.9 271.0Q386.5 271.4 386.5 273.5L386.5 276.3Q386.5 278.3 385.0 277.9L383.1 277.3Q381.6 276.9 381.3 276.5L381.0 275.9Q380.7 275.5 380.8 273.9L381.1 271.7Q381.2 270.1 382.8 270.5Z"/><path d="M385.0 278.0Q386.4 278.4 386.5 279.7L386.5 281.3Q386.5 282.6 385.5 282.9L384.2 283.4Q383.2 283.8 382.0 282.7L380.5 281.3Q379.3 280.2 380.0 279.3L380.9 278.0Q381.6 277.0 383.1 277.4Z"/><path d="M385.5 283.0Q386.5 282.6 386.5 284.9L386.5 287.9Q386.5 290.2 385.2 290.3L383.4 290.6Q382.1 290.8 382.0 289.2L381.8 287.0Q381.7 285.3 382.2 284.9L382.8 284.4Q383.2 283.9 384.2 283.6Z"/><path d="M385.1 290.4Q386.5 290.2 386.5 292.3L386.5 295.0Q386.5 297.0 384.9 296.4L382.8 295.5Q381.2 294.9 381.1 293.9L381.1 292.7Q381.1 291.8 381.4 291.5L381.8 291.2Q382.1 290.9 383.4 290.7Z"/><path d="M384.9 296.4Q386.4 297.1 386.4 298.3L386.5 300.0Q386.5 301.3 385.5 301.5L384.1 301.7Q383.1 301.9 382.4 300.0L381.4 297.6Q380.7 295.7 380.8 295.5L381.0 295.2Q381.2 294.9 382.7 295.6Z"/><path d="M385.5 301.6Q386.5 301.4 386.5 303.2L386.5 305.7Q386.5 307.6 385.4 307.6L383.9 307.7Q382.9 307.7 382.5 306.3L382.1 304.5Q381.8 303.1 382.2 302.8L382.7 302.4Q383.2 302.0 384.2 301.8Z"/><path d="M385.4 307.7Q386.5 307.7 386.5 309.1L386.5 310.9Q386.5 312.3 385.1 312.3L383.3 312.2Q382.0 312.2 381.8 311.5L381.6 310.5Q381.5 309.7 381.9 309.2L382.5 308.4Q382.9 307.8 383.9 307.8Z"/><path d="M385.1 312.4Q386.5 312.4 386.5 313.8L386.5 315.8Q386.5 317.2 385.4 317.1L383.9 316.9Q382.8 316.8 382.3 316.1L381.6 315.1Q381.1 314.4 381.4 313.8L381.7 312.9Q382.0 312.3 383.3 312.3Z"/><path d="M385.4 317.2Q386.5 317.3 386.5 318.9L386.5 321.2Q386.5 322.8 385.1 322.9L383.3 323.1Q382.0 323.2 381.7 322.9L381.4 322.4Q381.1 322.1 381.6 320.5L382.3 318.5Q382.8 316.9 383.9 317.0Z"/><path d="M385.1 323.0Q386.5 322.9 386.5 325.1L386.5 328.0Q386.5 330.2 385.5 330.1L384.2 329.9Q383.2 329.8 382.6 328.7L381.8 327.3Q381.2 326.2 381.4 325.4L381.7 324.2Q382.0 323.4 383.3 323.2Z"/><path d="M385.5 330.2Q386.5 330.3 386.5 332.2L386.5 334.7Q386.5 336.5 384.8 336.7L382.6 337.0Q380.9 337.2 380.8 336.0L380.6 334.5Q380.4 333.4 381.2 332.3L382.3 331.0Q383.2 329.9 384.1 330.0Z"/><path d="M384.8 336.8Q386.5 336.6 386.5 338.3L386.5 340.5Q386.5 342.1 385.1 342.3L383.3 342.6Q382.0 342.9 381.7 341.2L381.2 338.9Q380.9 337.2 382.6 337.1Z"/><path d="M385.1 342.4Q386.5 342.2 386.5 344.5L386.5 347.6Q386.5 349.9 385.7 349.5L384.6 349.0Q383.8 348.7 383.1 347.4L382.1 345.7Q381.3 344.4 381.5 343.9L381.8 343.4Q382.0 343.0 383.3 342.7Z"/><path d="M385.7 349.6Q386.4 350.0 386.5 351.4L386.5 353.3Q386.5 354.7 384.7 354.9L382.3 355.1Q380.6 355.3 380.5 353.9L380.3 352.2Q380.2 350.8 381.3 350.2L382.7 349.4Q383.8 348.8 384.6 349.1Z"/><path d="M384.7 355.0Q386.5 354.8 386.5 356.7L386.5 359.2Q386.5 361.0 385.1 361.1L383.3 361.2Q382.0 361.3 381.5 361.1L381.0 360.9Q380.5 360.8 380.1 359.5L379.5 357.9Q379.0 356.6 379.5 356.2L380.1 355.7Q380.6 355.4 382.3 355.2Z"/><path d="M385.1 361.2Q386.5 361.1 386.5 363.4L386.5 366.6Q386.5 368.9 385.3 368.9L383.7 368.9Q382.5 368.9 382.1 368.7L381.5 368.3Q381.0 368.1 381.3 366.1L381.7 363.4Q382.0 361.4 383.3 361.3Z"/><path d="M385.3 369.0Q386.5 369.0 386.5 371.0L386.5 373.8Q386.5 375.8 385.0 375.7L383.0 375.5Q381.6 375.4 381.2 375.1L380.8 374.7Q380.4 374.4 381.1 372.8L381.9 370.6Q382.5 369.0 383.7 369.0Z"/><path d="M385.0 375.8Q386.5 375.9 386.5 377.1L386.4 378.6Q386.4 379.7 385.1 380.2L383.4 380.8Q382.1 381.3 381.5 380.8L380.7 380.2Q380.1 379.8 380.5 378.5L381.1 376.8Q381.6 375.5 383.0 375.6Z"/><path d="M385.2 380.3Q386.5 379.8 386.5 382.1L386.5 385.1Q386.5 387.4 384.9 386.7L382.9 385.7Q381.4 385.0 381.6 383.9L381.9 382.4Q382.1 381.3 383.4 380.9Z"/><path d="M384.9 386.8Q386.4 387.5 386.4 388.0L386.4 388.8Q386.4 389.3 384.5 390.1L382.0 391.1Q380.0 391.9 379.8 390.2L379.4 387.9Q379.1 386.1 379.8 385.8L380.7 385.4Q381.4 385.1 382.9 385.8Z"/><path d="M384.5 390.1Q386.5 389.4 386.5 391.4L386.5 394.0Q386.5 396.1 385.4 396.3L383.9 396.6Q382.9 396.8 382.0 395.3L380.9 393.4Q380.1 392.0 382.0 391.2Z"/><path d="M385.4 396.4Q386.5 396.1 386.5 398.5L386.5 401.6Q386.5 404.0 384.8 403.0L382.5 401.7Q380.8 400.7 381.5 399.6L382.3 398.0Q382.9 396.9 383.9 396.7Z"/><path d="M384.8 403.1Q386.4 404.0 386.4 404.9L386.4 406.2Q386.4 407.1 385.2 407.5L383.5 408.0Q382.3 408.4 381.4 407.3L380.3 406.0Q379.4 404.9 379.8 403.7L380.4 402.0Q380.8 400.8 382.5 401.8Z"/><path d="M385.2 407.6Q386.5 407.2 386.5 409.2L386.5 411.9Q386.5 413.9 384.7 414.0L382.3 414.0Q380.6 414.0 380.4 413.3L380.3 412.3Q380.2 411.6 380.8 410.6L381.7 409.4Q382.3 408.5 383.5 408.1Z"/><path d="M384.7 414.0Q386.5 414.0 386.5 415.8L386.5 418.2Q386.5 420.1 384.9 419.9L382.9 419.8Q381.4 419.6 381.0 418.2L380.5 416.4Q380.1 415.0 380.2 414.7L380.4 414.4Q380.6 414.1 382.3 414.1Z"/><path d="M384.9 420.0Q386.5 420.1 386.5 421.7L386.5 423.7Q386.5 425.3 384.8 425.5L382.5 425.7Q380.9 425.9 380.6 424.7L380.2 423.1Q379.9 421.9 380.3 421.2L380.9 420.4Q381.4 419.7 382.9 419.8Z"/><path d="M384.7 425.6Q386.4 425.3 386.4 425.6L386.4 426.0Q386.4 426.3 384.7 426.3L382.4 426.3Q380.7 426.3 382.4 426.0Z"/></g>
<g fill="#fff" stroke="#808080" stroke-width="0.62" stroke-linejoin="round"><path d="M338.2 414.7Q338.2 412.6 339.8 412.6L341.8 412.6Q343.3 412.6 343.2 414.5L343.1 416.9Q343.1 418.7 341.6 419.0L339.7 419.3Q338.2 419.5 338.2 417.4Z"/><path d="M343.3 414.5Q343.4 412.7 344.9 412.7L347.0 412.6Q348.5 412.6 348.9 414.7L349.4 417.5Q349.8 419.6 348.0 419.5L345.5 419.4Q343.7 419.3 343.5 419.1L343.3 418.9Q343.2 418.7 343.2 416.9Z"/><path d="M349.1 414.8Q348.6 412.6 350.4 412.6L352.7 412.6Q354.4 412.6 354.4 414.6L354.4 417.1Q354.4 419.1 353.2 419.3L351.6 419.7Q350.4 419.9 349.8 417.7Z"/><path d="M354.5 414.6Q354.5 412.6 356.3 412.6L358.7 412.6Q360.4 412.6 360.5 414.5L360.5 416.9Q360.5 418.7 359.5 419.1L358.1 419.8Q357.1 420.2 356.3 419.9L355.3 419.4Q354.5 419.1 354.5 417.1Z"/><path d="M360.5 414.5Q360.5 412.6 362.5 412.6L365.1 412.6Q367.1 412.6 367.1 414.5L367.0 417.0Q367.0 418.9 366.1 419.3L365.0 419.8Q364.1 420.1 363.1 419.7L361.7 419.1Q360.6 418.7 360.6 416.9Z"/><path d="M367.2 414.5Q367.2 412.6 369.0 412.6L371.4 412.6Q373.2 412.6 373.1 414.5L372.9 416.9Q372.8 418.7 372.1 419.1L371.2 419.7Q370.5 420.1 369.5 419.7L368.1 419.3Q367.1 418.9 367.1 417.0Z"/><path d="M373.2 414.5Q373.3 412.7 374.0 412.7L375.0 412.7Q375.7 412.7 375.7 414.6L375.7 417.3Q375.7 419.3 374.8 419.1L373.7 418.8Q372.9 418.7 373.0 416.9Z"/><path d="M343.4 424.2Q343.3 426.2 341.8 426.2L339.8 426.2Q338.2 426.3 338.2 424.2L338.2 421.6Q338.2 419.6 339.7 419.3L341.6 419.1Q343.1 418.8 343.2 419.0L343.4 419.2Q343.6 419.4 343.5 421.4Z"/><path d="M349.5 424.3Q349.4 426.2 347.6 426.2L345.2 426.3Q343.4 426.3 343.5 424.2L343.6 421.4Q343.7 419.4 345.5 419.4L348.0 419.6Q349.8 419.7 349.7 421.6Z"/><path d="M357.0 424.5Q357.0 426.3 354.7 426.3L351.7 426.3Q349.5 426.3 349.7 424.4L350.1 421.9Q350.4 420.0 351.6 419.8L353.3 419.4Q354.5 419.2 355.2 419.5L356.3 420.0Q357.0 420.3 357.0 422.1Z"/><path d="M364.0 424.4Q363.9 426.3 361.9 426.3L359.1 426.3Q357.1 426.3 357.1 424.5L357.1 422.1Q357.1 420.3 358.2 419.8L359.6 419.2Q360.6 418.8 361.6 419.2L363.0 419.8Q364.1 420.2 364.0 422.0Z"/><path d="M371.2 424.4Q371.5 426.3 369.2 426.3L366.2 426.3Q364.0 426.3 364.0 424.4L364.1 422.0Q364.2 420.2 365.0 419.9L366.2 419.4Q367.0 419.0 368.1 419.4L369.4 419.8Q370.5 420.2 370.8 422.0Z"/><path d="M374.8 419.2Q375.7 419.4 375.7 421.4L375.7 424.2Q375.7 426.2 374.4 426.2L372.8 426.2Q371.5 426.2 371.2 424.4L370.9 422.0Q370.6 420.2 371.3 419.8L372.2 419.2Q372.9 418.8 373.7 419.0Z"/></g>
<rect x="340.9" y="169" width="32.0" height="243.4" fill="#fff"/>
<rect x="340.9" y="200.5" width="32.0" height="20" fill="#e2eef9"/>
<rect x="340.9" y="220.3" width="32.0" height="192" fill="#cde3f5"/>
<rect x="338.2" y="169" width="2.7" height="250.5" fill="#cfd5da" stroke="#484848" stroke-width="0.65"/>
<rect x="372.9" y="169" width="2.8" height="250.5" fill="#cfd5da" stroke="#484848" stroke-width="0.65"/>
<path d="M338.2 412.4H375.7" stroke="#444" stroke-width="1.2"/>
<rect x="343.5" y="407.2" width="27.0" height="3.2" fill="url(#hatch2)" stroke="#555" stroke-width="0.5"/>
<rect x="322.2" y="102" width="6.7" height="72.1" fill="#fff" stroke="#5a5a5a" stroke-width="0.9"/>
<path d="M322.2 106.9H328.9M322.2 111.8H328.9M322.2 116.7H328.9M322.2 121.6H328.9M322.2 126.5H328.9M322.2 131.4H328.9M322.2 136.3H328.9M322.2 141.2H328.9M322.2 146.1H328.9M322.2 151.0H328.9M322.2 155.9H328.9M322.2 160.8H328.9M322.2 165.7H328.9M322.2 170.6H328.9M325.5 102V174.1" stroke="#7a7a7a" stroke-width="0.7" fill="none"/>
<rect x="328.9" y="169" width="9.3" height="5.1" fill="#fff" stroke="#5a5a5a" stroke-width="0.9"/>
<path d="M333.5 169.0v5.1" stroke="#7a7a7a" stroke-width="0.7" fill="none"/>
<rect x="407.7" y="102" width="7.1" height="72.0" fill="#fff" stroke="#5a5a5a" stroke-width="0.9"/>
<path d="M407.7 106.9H414.8M407.7 111.8H414.8M407.7 116.7H414.8M407.7 121.6H414.8M407.7 126.5H414.8M407.7 131.4H414.8M407.7 136.3H414.8M407.7 141.2H414.8M407.7 146.1H414.8M407.7 151.0H414.8M407.7 155.9H414.8M407.7 160.8H414.8M407.7 165.7H414.8M407.7 170.6H414.8M411.2 102V174" stroke="#7a7a7a" stroke-width="0.7" fill="none"/>
<rect x="322.2" y="102" width="31.3" height="7.0" fill="#fff" stroke="#5a5a5a" stroke-width="0.9"/>
<path d="M327.7 102.0v3.5M333.2 102.0v3.5M338.7 102.0v3.5M344.2 102.0v3.5M349.7 102.0v3.5M322.2 105.5H353.5M324.9 105.5v3.5M330.4 105.5v3.5M335.9 105.5v3.5M341.4 105.5v3.5M346.9 105.5v3.5M352.4 105.5v3.5" stroke="#7a7a7a" stroke-width="0.7" fill="none"/>
<rect x="393.7" y="102" width="21.1" height="7.0" fill="#fff" stroke="#5a5a5a" stroke-width="0.9"/>
<path d="M399.2 102.0v3.5M404.7 102.0v3.5M410.2 102.0v3.5M393.7 105.5H414.8M396.4 105.5v3.5M401.9 105.5v3.5M407.4 105.5v3.5M412.9 105.5v3.5" stroke="#7a7a7a" stroke-width="0.7" fill="none"/>
<rect x="375.5" y="169.2" width="39.3" height="4.9" fill="#fff" stroke="#5a5a5a" stroke-width="0.9"/>
<path d="M381.9 169.2v4.9M388.3 169.2v4.9M394.7 169.2v4.9M401.1 169.2v4.9M407.5 169.2v4.9" stroke="#7a7a7a" stroke-width="0.7" fill="none"/>
<rect x="353.5" y="99" width="40.2" height="10" fill="#b9b9b9"/><rect x="353" y="98.2" width="41.2" height="1.8" fill="#222"/>
<rect x="306.1" y="174.1" width="31.9" height="4.3" fill="url(#hatch)"/>
<path d="M306.1 178.4H338" stroke="#777" stroke-width="0.6"/>
<path d="M306.1 174.1H338" stroke="#3a3a3a" stroke-width="1"/>
<rect x="375.7" y="174.1" width="41.8" height="4.3" fill="url(#hatch)"/>
<path d="M375.7 178.4H417.5" stroke="#777" stroke-width="0.6"/>
<path d="M375.7 174.1H417.5" stroke="#3a3a3a" stroke-width="1"/>
<rect x="330" y="162.4" width="53.7" height="6.6" rx="1.2" fill="#fff" stroke="#444" stroke-width="1"/>
<path d="M349.3 169V235" stroke="#222" stroke-width="1.15"/><rect x="348.5" y="171.5" width="1.6" height="6" fill="#555"/>
<path d="M352.2 234.6V147Q352.2 137.8 361.5 137.8H364.6V143.1H362Q358 143.1 358 147V234.6" fill="#fff" stroke="#555" stroke-width="0.9"/>
<rect x="350.2" y="149" width="10" height="2" fill="#ccc" stroke="#555" stroke-width="0.6"/>
<rect x="351" y="191.6" width="8.2" height="2.4" fill="#ddd" stroke="#555" stroke-width="0.6"/>
<rect x="366" y="137.8" width="55.5" height="5.3" fill="#fff" stroke="#555" stroke-width="0.9"/>
<rect x="364.6" y="135.6" width="2.4" height="10.0" rx="0.8" fill="#d5d5d5" stroke="#555" stroke-width="0.7"/>
<rect x="374.7" y="135.6" width="2.4" height="10.0" rx="0.8" fill="#d5d5d5" stroke="#555" stroke-width="0.7"/>
<rect x="387.7" y="135.6" width="2.4" height="10.0" rx="0.8" fill="#d5d5d5" stroke="#555" stroke-width="0.7"/>
<rect x="399.9" y="135.6" width="2.4" height="10.0" rx="0.8" fill="#d5d5d5" stroke="#555" stroke-width="0.7"/>
<path d="M370.2 131.5V137.8" stroke="#555" stroke-width="1.4"/><circle cx="370.2" cy="128.6" r="3.1" fill="#fff" stroke="#444" stroke-width="0.9"/><circle cx="370.2" cy="128.6" r="1.6" fill="none" stroke="#777" stroke-width="0.5"/>
<circle cx="382.3" cy="140.3" r="4.7" fill="#fff" stroke="#555" stroke-width="0.9"/><path d="M379.5 137.5Q383 135.5 385.8 138.5" stroke="#555" stroke-width="0.7" fill="none"/><circle cx="382.6" cy="141.6" r="0.7" fill="#555"/>
<path d="M392.6 137.5Q392.6 133.5 394 133.3H396.2Q397.6 133.5 397.6 137.5V142.5Q397.6 144.8 395.1 144.8Q392.6 144.8 392.6 142.5Z" fill="#fff" stroke="#555" stroke-width="0.9"/><path d="M395.1 133.3V128.2" stroke="#555" stroke-width="1.5"/><rect x="390.1" y="126.9" width="9.9" height="1.7" rx="0.6" fill="#444"/>
<path d="M405.8 140.4h2.4v-1.7l2.6 1.7l-2.6 1.8v-1.8Z" fill="#111" stroke="#111" stroke-width="0.6"/>
<path d="M350.8 75.2H363.3V240" stroke="#1b75bb" stroke-width="1.5" fill="none"/>
<rect x="362.6" y="112.5" width="1.4" height="1.6" fill="#fff"/>
<rect x="350.7" y="212.6" width="13.6" height="2.6" fill="#d4d4d4" stroke="#888" stroke-width="0.5"/>
<rect x="326" y="53" width="24.8" height="33.2" rx="1.4" fill="#fff" stroke="#505050" stroke-width="1.15"/>
<rect x="329.2" y="55.9" width="18.200000000000003" height="2.2" fill="#3a3a3a"/>
<rect x="339.3" y="59" width="8" height="0.8" fill="#888"/>
<rect x="333.59999999999997" y="66.3" width="9.2" height="9" fill="#fff" stroke="#555" stroke-width="0.7"/>
<circle cx="338.2" cy="69.6" r="2.3" fill="#fff" stroke="#444" stroke-width="0.8"/>
<path d="M338.2 69.0V75.6" stroke="#444" stroke-width="1.3"/>
<circle cx="334.09999999999997" cy="79.5" r="1.1" fill="#fff" stroke="#555" stroke-width="0.6"/>
<circle cx="342.3" cy="79.5" r="1.1" fill="#fff" stroke="#555" stroke-width="0.6"/>
<circle cx="348.2" cy="67.5" r="0.65" fill="#fff" stroke="#555" stroke-width="0.4"/>
<circle cx="328" cy="84.3" r="0.45" fill="#555"/><circle cx="348.8" cy="84.3" r="0.45" fill="#555"/>
<path d="M347.1 246.5V240Q347.1 235.2 350.6 234.8H360.6Q364.1 235.2 364.1 240V246.5Z" fill="#777" stroke="#333" stroke-width="0.9"/>
<path d="M348.1 238.2H363.1M347.6 240.6H363.6M347.6 243H363.6" stroke="#ddd" stroke-width="0.8"/>
<path d="M347.6 245.3H363.6" stroke="#222" stroke-width="1.2"/>
<rect x="347.1" y="246.5" width="17" height="80.5" fill="url(#silver)" stroke="#383838" stroke-width="1"/>
<path d="M353.40000000000003 258.6Q358.20000000000005 256 358.20000000000005 251.6Q360.6 256.4 354.0 261ZM351.0 263.8Q356.8 262.59999999999997 359.5 258.59999999999997L359.5 261.3Q356.8 265.4 351.0 266.5ZM351.0 268.0Q356.8 266.79999999999995 359.5 262.79999999999995L359.5 265.5Q356.8 269.59999999999997 351.0 270.7ZM351.0 272.20000000000005Q356.8 271.0 359.5 267.0L359.5 269.70000000000005Q356.8 273.8 351.0 274.90000000000003ZM351.3 276.3Q356.40000000000003 275.3 359.20000000000005 271.4L359.0 274Q356.20000000000005 277.8 353.0 277.6Z" fill="#1d3f96"/>
<path d="M350.20000000000005 282.6l1.2-2.6h9.8l-1.2 2.6Z" fill="#d8232a"/>
<rect x="351.20000000000005" y="287" width="8" height="1.3" fill="#3b6fc0"/>
<rect x="347.1" y="327" width="17" height="7.6" fill="#1d1d1d" stroke="#222" stroke-width="0.8"/>
<rect x="352.90000000000003" y="328.4" width="5" height="5.4" fill="#c4c4c4"/><rect x="355.20000000000005" y="328.4" width="0.8" height="5.4" fill="#888"/>
<path d="M341.70000000000005 329l4.6 2.3l-4.6 2.4l0.8-2.4Z" fill="#111" stroke="#111" stroke-width="0.5" stroke-linejoin="round"/><path d="M369.5 329l-4.6 2.3l4.6 2.4l-0.8-2.4Z" fill="#111" stroke="#111" stroke-width="0.5" stroke-linejoin="round"/>
<rect x="347.70000000000005" y="334.6" width="15.8" height="59.4" fill="url(#silver)" stroke="#383838" stroke-width="1"/>
<path d="M347.70000000000005 339H363.5M347.70000000000005 345H363.5M347.70000000000005 376.5H363.5M347.70000000000005 391.6H363.5" stroke="#666" stroke-width="0.7"/>
<path d="M350.40 378.5V390.5M352.15 378.5V390.5M353.90 378.5V390.5M355.65 378.5V390.5M357.40 378.5V390.5M359.15 378.5V390.5M360.90 378.5V390.5" stroke="#8a8a8a" stroke-width="0.9"/>
<rect x="349.3" y="377.5" width="12.6" height="13.6" fill="none" stroke="#777" stroke-width="0.5"/>
<path d="M355.6 229l2.2 2.4h-1.2v2.4h-2v-2.4h-1.2Z" fill="#111"/>
<path d="M340.9 200.5H399" stroke="#1c1c1c" stroke-width="1"/><path d="M401 200.5l-3.8-1.7v3.4Z" fill="#1c1c1c"/>
<path d="M340.9 220.5H399" stroke="#1c1c1c" stroke-width="1"/><path d="M401 220.5l-3.8-1.7v3.4Z" fill="#1c1c1c"/>
<text x="405.9" y="203.5" font-size="10" font-weight="bold" fill="#1d3788" textLength="78.9" lengthAdjust="spacingAndGlyphs">статичний рівень</text>
<text x="405.9" y="222.8" font-size="10" font-weight="bold" fill="#1d3788" textLength="87" lengthAdjust="spacingAndGlyphs">динамічний рівень</text>
<path d="M315.3 220.5H338.2M315.3 235.3H347M315.3 394.2H347M315.3 411.6H338.2" stroke="#555" stroke-width="0.6"/>
<path d="M317.4 211.5V220.5M317.4 235.3V284M317.4 354V394.2M317.4 411.6V420.8" stroke="#333" stroke-width="0.7"/>
<path d="M317.4 219.9l-1.3-4.4h2.6ZM317.4 236l-1.3 4.4h2.6ZM317.4 392.8l-1.3-4.4h2.6ZM317.4 413.2l-1.3 4.4h2.6Z" fill="#222"/>
<text transform="translate(316 281.4) rotate(-90)" font-size="7.9" font-weight="bold" fill="#222" stroke="#222" stroke-width="0.2" textLength="38.2" lengthAdjust="spacingAndGlyphs">мін. 50 см</text>
<text transform="translate(316 387.3) rotate(-90)" font-size="7.9" font-weight="bold" fill="#222" stroke="#222" stroke-width="0.2" textLength="31.8" lengthAdjust="spacingAndGlyphs">мін. 1 м</text>
<text x="387" y="51.6" font-size="8.4" font-weight="bold" text-anchor="middle" fill="#222" stroke="#222" stroke-width="0.25">9</text>
<path d="M380.5 51.5L351 65.3" stroke="#555" stroke-width="0.6" fill="none"/>
<text x="400.5" y="75.9" font-size="8.4" font-weight="bold" text-anchor="middle" fill="#222" stroke="#222" stroke-width="0.25">5</text>
<path d="M398 80.3L371.6 126" stroke="#555" stroke-width="0.6" fill="none"/>
<text x="437.4" y="113.6" font-size="8.4" font-weight="bold" text-anchor="middle" fill="#222" stroke="#222" stroke-width="0.25">7</text>
<path d="M433.5 114.4L396.5 132.4" stroke="#555" stroke-width="0.6" fill="none"/>
<text x="303.7" y="120.9" font-size="8.4" font-weight="bold" text-anchor="middle" fill="#222" stroke="#222" stroke-width="0.25">8</text>
<path d="M310.8 118.5L362.6 113.3" stroke="#555" stroke-width="0.6" fill="none"/>
<text x="303.6" y="149.5" font-size="8.4" font-weight="bold" text-anchor="middle" fill="#222" stroke="#222" stroke-width="0.25">4</text>
<path d="M310 150L349.4 167" stroke="#555" stroke-width="0.6" fill="none"/>
<text x="437.4" y="168.5" font-size="8.4" font-weight="bold" text-anchor="middle" fill="#222" stroke="#222" stroke-width="0.25">6</text>
<path d="M432.4 162.6L384 140.6" stroke="#555" stroke-width="0.6" fill="none"/>
<text x="303.6" y="199.8" font-size="8.4" font-weight="bold" text-anchor="middle" fill="#222" stroke="#222" stroke-width="0.25">2</text>
<path d="M313 200.5L352.8 212.8" stroke="#555" stroke-width="0.6" fill="none"/>
<text x="304" y="298" font-size="8.4" font-weight="bold" text-anchor="middle" fill="#222" stroke="#222" stroke-width="0.25">1</text>
<path d="M308.5 297L356 305" stroke="#555" stroke-width="0.6" fill="none"/>
<g fill="#fff" stroke="#808080" stroke-width="0.62" stroke-linejoin="round"><path d="M514.7 179.6Q514.7 178.5 516.2 178.5L518.1 178.5Q519.5 178.5 519.2 179.2L518.9 180.1Q518.6 180.8 517.5 181.2L515.9 181.7Q514.7 182.1 514.7 181.1Z"/><path d="M520.3 185.5Q520.0 186.1 518.4 186.2L516.3 186.4Q514.7 186.6 514.7 185.3L514.8 183.5Q514.8 182.2 515.9 181.8L517.5 181.3Q518.7 180.9 519.4 181.9L520.3 183.2Q521.0 184.2 520.7 184.8Z"/><path d="M519.2 191.6Q518.1 192.5 517.1 192.2L515.8 191.9Q514.7 191.6 514.7 190.1L514.7 188.2Q514.7 186.7 516.3 186.5L518.4 186.3Q520.0 186.2 520.5 187.2L521.2 188.6Q521.7 189.7 520.6 190.5Z"/><path d="M519.4 197.9Q519.1 198.5 517.8 198.6L516.0 198.8Q514.7 198.9 514.7 196.7L514.7 193.9Q514.7 191.7 515.7 192.0L517.1 192.3Q518.1 192.6 518.7 193.8L519.6 195.5Q520.2 196.7 519.9 197.2Z"/><path d="M519.9 203.8Q519.6 204.1 518.2 204.0L516.2 203.8Q514.8 203.6 514.7 202.2L514.7 200.4Q514.7 199.0 516.0 198.8L517.8 198.7Q519.1 198.6 519.5 199.9L520.1 201.8Q520.6 203.1 520.3 203.4Z"/><path d="M516.1 209.2Q514.7 209.9 514.7 208.1L514.7 205.6Q514.7 203.7 516.2 203.8L518.1 204.1Q519.6 204.2 519.5 205.2L519.4 206.5Q519.3 207.5 517.9 208.2Z"/><path d="M520.1 213.1Q519.2 214.5 517.9 213.8L516.1 212.9Q514.8 212.2 514.8 211.5L514.8 210.7Q514.8 210.0 516.1 209.3L518.0 208.3Q519.3 207.6 520.2 208.3L521.4 209.3Q522.3 210.1 521.4 211.4Z"/><path d="M519.0 218.3Q518.5 218.9 517.4 219.0L515.9 219.2Q514.7 219.4 514.7 217.2L514.7 214.4Q514.7 212.3 516.1 213.0L517.8 213.9Q519.2 214.6 519.5 215.3L520.0 216.3Q520.3 217.1 519.8 217.6Z"/><path d="M518.6 222.3Q518.7 223.8 517.5 224.0L515.9 224.4Q514.7 224.6 514.7 223.1L514.7 221.0Q514.7 219.5 515.9 219.3L517.4 219.1Q518.5 219.0 518.6 220.4Z"/><path d="M519.1 228.4Q518.1 229.6 517.1 229.7L515.8 229.9Q514.7 230.0 514.7 228.4L514.7 226.3Q514.7 224.7 515.9 224.5L517.5 224.1Q518.7 223.9 519.5 224.4L520.6 225.1Q521.4 225.6 520.4 226.8Z"/><path d="M518.9 234.6Q518.0 235.5 517.0 235.6L515.7 235.7Q514.7 235.8 514.7 234.1L514.7 231.8Q514.7 230.1 515.8 230.0L517.1 229.8Q518.1 229.7 519.0 230.5L520.1 231.6Q521.0 232.4 520.1 233.3Z"/><path d="M520.7 240.3Q520.1 241.2 518.5 241.2L516.4 241.3Q514.7 241.3 514.7 239.7L514.7 237.5Q514.7 235.9 515.7 235.8L517.0 235.7Q518.0 235.6 519.2 236.4L520.8 237.4Q521.9 238.2 521.4 239.1Z"/><path d="M520.3 246.2Q519.6 247.4 518.2 246.9L516.2 246.2Q514.8 245.7 514.8 244.4L514.8 242.7Q514.7 241.4 516.4 241.4L518.5 241.3Q520.1 241.3 520.6 242.0L521.3 242.9Q521.8 243.6 521.1 244.7Z"/><path d="M518.8 251.7Q518.2 253.0 517.2 253.1L515.8 253.3Q514.7 253.5 514.7 251.2L514.7 248.1Q514.7 245.8 516.2 246.3L518.1 247.0Q519.6 247.5 519.8 247.9L520.1 248.4Q520.3 248.8 519.7 250.0Z"/><path d="M519.4 258.3Q518.9 259.9 517.7 259.7L516.0 259.5Q514.7 259.3 514.7 257.6L514.7 255.3Q514.7 253.6 515.8 253.4L517.2 253.2Q518.2 253.1 518.9 253.6L519.9 254.2Q520.6 254.7 520.1 256.3Z"/><path d="M520.7 263.9Q520.3 264.7 518.7 265.2L516.4 265.9Q514.7 266.5 514.7 264.3L514.7 261.5Q514.7 259.4 516.0 259.6L517.7 259.8Q518.9 260.0 519.8 260.6L520.8 261.4Q521.6 262.1 521.2 262.9Z"/><path d="M519.7 269.7Q518.7 270.5 517.5 270.3L515.9 270.1Q514.8 270.0 514.8 269.0L514.8 267.6Q514.8 266.5 516.4 266.0L518.7 265.3Q520.3 264.8 520.8 265.8L521.4 267.1Q521.9 268.1 520.9 268.8Z"/><path d="M518.8 275.2Q517.9 276.1 517.0 275.8L515.7 275.4Q514.7 275.2 514.7 273.6L514.7 271.6Q514.7 270.1 515.9 270.2L517.5 270.4Q518.7 270.6 519.3 271.3L520.1 272.3Q520.7 273.1 519.9 274.0Z"/><path d="M516.3 282.1Q514.7 282.8 514.7 280.6L514.7 277.5Q514.7 275.3 515.7 275.5L517.0 275.9Q517.9 276.2 518.7 277.0L519.7 278.1Q520.4 278.9 520.3 279.4L520.1 279.9Q520.0 280.3 518.4 281.1Z"/><path d="M519.3 287.4Q519.0 287.5 517.7 287.6L516.0 287.7Q514.7 287.8 514.7 286.3L514.8 284.4Q514.8 282.9 516.3 282.2L518.4 281.2Q520.0 280.4 520.6 281.4L521.4 282.7Q522.0 283.7 521.5 284.7L520.8 286.1Q520.2 287.2 519.8 287.3Z"/><path d="M519.6 294.6Q519.0 294.7 517.7 294.2L516.0 293.5Q514.8 293.1 514.7 291.5L514.7 289.4Q514.7 287.9 516.0 287.8L517.7 287.7Q519.0 287.6 519.6 289.6L520.4 292.3Q521.1 294.3 520.4 294.4Z"/><path d="M516.0 301.0Q514.7 301.7 514.7 299.1L514.7 295.7Q514.7 293.1 516.0 293.6L517.7 294.3Q519.0 294.8 518.9 296.1L518.9 297.9Q518.8 299.3 517.6 300.0Z"/><path d="M521.3 303.6Q520.5 304.9 518.8 304.8L516.5 304.7Q514.8 304.5 514.8 303.7L514.8 302.6Q514.8 301.8 516.0 301.1L517.6 300.1Q518.9 299.4 520.1 299.8L521.8 300.2Q523.1 300.6 522.3 301.9Z"/><path d="M519.1 310.2Q517.4 311.1 516.6 310.8L515.6 310.4Q514.7 310.1 514.7 308.5L514.7 306.3Q514.7 304.6 516.5 304.7L518.8 304.9Q520.5 305.0 521.3 305.9L522.2 307.2Q522.9 308.1 521.3 309.0Z"/><path d="M519.9 316.8Q519.6 317.3 518.2 317.5L516.2 317.8Q514.7 318.0 514.7 315.7L514.7 312.5Q514.7 310.2 515.5 310.5L516.6 310.9Q517.4 311.3 518.3 312.5L519.5 314.2Q520.4 315.5 520.2 316.0Z"/><path d="M518.9 322.5Q518.1 323.7 517.1 323.9L515.8 324.3Q514.7 324.6 514.7 322.6L514.7 320.0Q514.7 318.1 516.2 317.9L518.2 317.6Q519.6 317.4 519.9 318.1L520.3 319.0Q520.6 319.7 519.9 320.9Z"/><path d="M520.8 328.9Q520.1 330.0 518.5 329.9L516.3 329.8Q514.7 329.7 514.7 328.2L514.7 326.2Q514.7 324.7 515.8 324.4L517.1 324.1Q518.2 323.8 519.5 324.6L521.2 325.7Q522.5 326.5 521.8 327.6Z"/><path d="M519.2 335.1Q518.1 336.3 517.1 335.8L515.8 335.1Q514.8 334.6 514.7 333.2L514.7 331.3Q514.7 329.8 516.3 329.9L518.5 330.0Q520.1 330.1 520.5 330.7L521.1 331.7Q521.5 332.3 520.5 333.5Z"/><path d="M516.1 341.2Q514.7 341.6 514.7 339.5L514.7 336.8Q514.7 334.7 515.8 335.2L517.1 335.9Q518.1 336.4 518.7 337.3L519.4 338.5Q519.9 339.3 519.7 339.7L519.5 340.1Q519.2 340.4 517.9 340.8Z"/><path d="M519.9 344.8Q520.1 346.6 518.5 346.8L516.4 347.0Q514.7 347.2 514.7 345.6L514.7 343.3Q514.7 341.7 516.1 341.3L517.9 340.9Q519.3 340.5 519.5 342.3Z"/><path d="M518.9 352.6Q518.2 353.2 517.2 352.8L515.8 352.3Q514.8 351.9 514.7 350.5L514.7 348.7Q514.7 347.3 516.4 347.1L518.5 346.8Q520.1 346.6 520.3 348.0L520.5 349.8Q520.6 351.2 519.9 351.8Z"/><path d="M516.1 358.1Q514.7 358.6 514.7 356.6L514.7 354.0Q514.7 352.0 515.8 352.4L517.1 352.9Q518.2 353.4 518.5 354.5L518.9 356.0Q519.3 357.2 517.9 357.6Z"/><path d="M520.6 363.2Q520.2 363.6 518.6 363.5L516.4 363.5Q514.7 363.4 514.7 362.0L514.8 360.1Q514.8 358.6 516.1 358.2L517.9 357.7Q519.3 357.3 519.9 358.8L520.8 360.8Q521.5 362.3 521.1 362.7Z"/><path d="M520.4 367.1Q520.5 368.6 518.8 369.2L516.5 370.1Q514.7 370.8 514.7 368.6L514.7 365.7Q514.7 363.5 516.4 363.6L518.6 363.6Q520.2 363.7 520.3 365.2Z"/><path d="M518.7 375.2Q517.6 375.5 516.7 375.4L515.6 375.2Q514.7 375.1 514.7 373.8L514.7 372.1Q514.7 370.9 516.5 370.2L518.8 369.3Q520.5 368.6 520.8 370.4L521.1 372.8Q521.4 374.6 520.2 374.9Z"/><path d="M519.6 382.3Q518.7 382.7 517.5 382.3L515.9 381.8Q514.7 381.5 514.7 379.6L514.7 377.1Q514.7 375.2 515.6 375.3L516.7 375.5Q517.6 375.6 518.8 377.3L520.4 379.7Q521.6 381.4 520.7 381.8Z"/><path d="M518.4 388.5Q518.2 388.7 517.1 389.1L515.8 389.6Q514.7 390.0 514.7 387.4L514.7 384.1Q514.7 381.6 515.9 381.9L517.5 382.4Q518.7 382.8 518.7 384.4L518.8 386.5Q518.9 388.1 518.7 388.3Z"/><path d="M519.3 395.0Q518.5 395.6 517.4 395.2L515.9 394.7Q514.7 394.4 514.7 393.1L514.7 391.3Q514.7 390.0 515.8 389.7L517.2 389.2Q518.2 388.8 519.1 390.3L520.3 392.3Q521.2 393.7 520.4 394.3Z"/><path d="M520.0 401.1Q519.7 401.3 518.2 401.3L516.2 401.2Q514.7 401.1 514.7 399.1L514.7 396.5Q514.7 394.5 515.9 394.8L517.4 395.3Q518.5 395.7 519.1 397.1L520.0 399.1Q520.6 400.5 520.3 400.8Z"/><path d="M519.5 404.2Q519.5 405.4 518.0 405.9L516.2 406.6Q514.7 407.1 514.7 405.4L514.7 403.0Q514.7 401.2 516.2 401.3L518.2 401.4Q519.7 401.4 519.6 402.6Z"/><path d="M521.0 410.1Q520.4 410.8 518.7 411.1L516.4 411.5Q514.7 411.8 514.7 410.5L514.8 408.6Q514.8 407.2 516.2 406.7L518.1 406.0Q519.5 405.5 520.4 406.4L521.5 407.6Q522.4 408.5 521.8 409.2Z"/><path d="M518.6 416.5Q517.2 417.1 516.4 417.1L515.5 417.0Q514.7 416.9 514.7 415.4L514.7 413.4Q514.7 411.9 516.4 411.6L518.7 411.2Q520.4 410.9 520.8 412.1L521.4 413.7Q521.8 414.9 520.4 415.6Z"/><path d="M520.1 423.5Q519.1 424.6 517.8 424.0L516.1 423.2Q514.7 422.6 514.7 420.9L514.7 418.7Q514.7 417.0 515.5 417.1L516.4 417.2Q517.1 417.2 518.8 418.4L520.9 419.9Q522.5 421.0 521.5 422.1Z"/><path d="M519.4 425.8Q519.6 426.3 518.1 426.3L516.2 426.3Q514.8 426.3 514.7 425.2L514.7 423.7Q514.7 422.6 516.0 423.2L517.8 424.1Q519.1 424.7 519.2 425.2Z"/><path d="M519.3 179.2Q519.6 178.5 521.2 178.5L523.4 178.5Q525.1 178.5 525.1 179.9L525.1 181.7Q525.0 183.0 523.8 183.4L522.2 183.8Q521.0 184.2 520.4 183.2L519.4 181.8Q518.8 180.8 519.0 180.1Z"/><path d="M523.9 183.5Q525.1 183.1 525.1 185.3L525.1 188.2Q525.1 190.4 524.1 190.2L522.7 189.9Q521.7 189.6 521.2 188.6L520.6 187.2Q520.1 186.1 520.4 185.6L520.8 184.8Q521.1 184.3 522.3 183.9Z"/><path d="M524.1 190.3Q525.1 190.5 525.1 192.2L525.1 194.4Q525.1 196.0 523.6 196.2L521.7 196.5Q520.3 196.7 519.7 195.4L518.8 193.8Q518.2 192.5 519.2 191.7L520.7 190.6Q521.7 189.7 522.7 190.0Z"/><path d="M523.6 196.3Q525.1 196.1 525.1 198.3L525.1 201.1Q525.1 203.3 523.7 203.2L522.0 203.1Q520.7 203.1 520.2 201.7L519.6 199.9Q519.2 198.5 519.5 198.0L520.0 197.3Q520.3 196.8 521.7 196.6Z"/><path d="M523.7 203.3Q525.1 203.3 525.1 205.3L525.1 207.8Q525.1 209.7 524.2 209.8L523.2 209.9Q522.3 210.0 521.5 209.2L520.3 208.2Q519.4 207.5 519.5 206.5L519.6 205.2Q519.7 204.2 520.0 203.9L520.4 203.5Q520.7 203.2 522.0 203.2Z"/><path d="M524.3 209.9Q525.1 209.8 525.1 212.4L525.1 215.8Q525.1 218.4 523.7 218.0L521.8 217.4Q520.4 217.1 520.1 216.3L519.6 215.3Q519.3 214.5 520.2 213.2L521.4 211.4Q522.4 210.1 523.2 210.0Z"/><path d="M523.7 218.1Q525.1 218.4 525.1 220.5L525.1 223.2Q525.1 225.3 524.0 225.3L522.6 225.4Q521.5 225.5 520.7 225.0L519.6 224.3Q518.8 223.8 518.7 222.3L518.6 220.4Q518.6 219.0 519.1 218.4L519.8 217.7Q520.4 217.2 521.8 217.5Z"/><path d="M524.0 225.4Q525.1 225.3 525.1 227.6L525.1 230.6Q525.1 232.8 523.9 232.7L522.3 232.5Q521.1 232.3 520.2 231.5L519.0 230.5Q518.2 229.7 519.2 228.5L520.5 226.8Q521.5 225.6 522.6 225.5Z"/><path d="M523.9 232.7Q525.1 232.9 525.1 234.0L525.0 235.5Q525.0 236.6 524.1 237.1L522.9 237.7Q522.0 238.1 520.8 237.3L519.2 236.3Q518.0 235.5 519.0 234.6L520.2 233.4Q521.1 232.5 522.3 232.6Z"/><path d="M524.2 237.2Q525.1 236.7 525.1 238.9L525.1 241.8Q525.1 244.0 524.1 243.9L522.8 243.6Q521.9 243.5 521.4 242.8L520.7 241.9Q520.2 241.2 520.8 240.3L521.5 239.1Q522.0 238.2 522.9 237.8Z"/><path d="M524.1 244.0Q525.1 244.1 525.1 245.8L525.1 247.9Q525.1 249.6 523.7 249.3L521.8 249.0Q520.4 248.7 520.2 248.3L519.9 247.8Q519.7 247.4 520.4 246.3L521.2 244.8Q521.9 243.6 522.8 243.8Z"/><path d="M523.7 249.4Q525.1 249.7 525.1 251.2L525.1 253.3Q525.1 254.9 523.7 254.8L522.0 254.7Q520.7 254.7 519.9 254.2L519.0 253.5Q518.3 253.0 518.9 251.8L519.8 250.1Q520.4 248.8 521.8 249.1Z"/><path d="M523.7 254.9Q525.1 255.0 525.1 256.8L525.1 259.2Q525.1 261.0 524.1 261.3L522.7 261.7Q521.7 262.0 520.9 261.4L519.8 260.5Q519.0 259.9 519.5 258.3L520.2 256.3Q520.7 254.8 522.0 254.8Z"/><path d="M524.1 261.4Q525.1 261.1 525.1 263.7L525.1 267.1Q525.1 269.6 524.1 269.1L522.9 268.5Q521.9 268.0 521.5 267.0L520.9 265.7Q520.4 264.7 520.8 264.0L521.3 262.9Q521.7 262.1 522.7 261.8Z"/><path d="M524.1 269.2Q525.0 269.7 525.0 270.8L525.1 272.2Q525.1 273.3 523.8 273.2L522.1 273.1Q520.8 273.0 520.2 272.3L519.4 271.3Q518.8 270.5 519.7 269.8L521.0 268.9Q521.9 268.1 522.9 268.6Z"/><path d="M523.8 273.3Q525.1 273.4 525.0 274.4L525.0 275.8Q525.0 276.8 523.7 277.4L521.9 278.3Q520.5 278.9 519.7 278.0L518.7 276.9Q518.0 276.1 518.8 275.2L520.0 274.0Q520.8 273.1 522.1 273.2Z"/><path d="M523.7 277.5Q525.1 276.9 525.1 278.9L525.1 281.5Q525.1 283.4 524.2 283.5L523.0 283.5Q522.1 283.6 521.5 282.6L520.7 281.3Q520.1 280.4 520.2 280.0L520.4 279.4Q520.5 279.0 521.9 278.3Z"/><path d="M524.2 283.6Q525.1 283.5 525.1 285.5L525.1 288.2Q525.1 290.3 523.6 289.4L521.7 288.1Q520.3 287.2 520.8 286.2L521.6 284.8Q522.1 283.7 523.0 283.6Z"/><path d="M523.6 289.4Q525.0 290.3 525.0 291.5L525.1 293.1Q525.1 294.3 523.9 294.3L522.3 294.3Q521.1 294.2 520.5 292.3L519.6 289.6Q519.0 287.6 519.4 287.5L519.9 287.4Q520.3 287.3 521.7 288.2Z"/><path d="M523.9 294.4Q525.1 294.4 525.1 295.9L525.1 298.1Q525.1 299.7 524.5 299.9L523.7 300.3Q523.2 300.5 521.9 300.2L520.2 299.7Q518.9 299.3 519.0 297.9L519.0 296.1Q519.0 294.8 519.7 294.6L520.5 294.5Q521.1 294.4 522.3 294.4Z"/><path d="M524.5 300.0Q525.1 299.7 525.1 302.5L525.1 306.1Q525.1 308.9 524.5 308.6L523.6 308.3Q523.0 308.0 522.3 307.1L521.4 305.9Q520.6 305.0 521.4 303.7L522.4 301.9Q523.2 300.7 523.7 300.4Z"/><path d="M524.4 308.7Q525.1 309.0 525.1 310.4L525.1 312.2Q525.1 313.6 523.7 314.1L521.9 314.9Q520.5 315.5 519.6 314.2L518.4 312.5Q517.5 311.2 519.1 310.3L521.3 309.1Q523.0 308.2 523.6 308.4Z"/><path d="M523.7 314.2Q525.1 313.6 525.1 316.1L525.1 319.4Q525.1 321.8 523.8 321.2L522.0 320.3Q520.7 319.6 520.4 318.9L520.0 318.0Q519.7 317.4 520.0 316.8L520.3 316.1Q520.5 315.6 521.9 315.0Z"/><path d="M523.7 321.3Q525.0 321.9 525.0 323.0L525.1 324.5Q525.1 325.6 524.3 325.9L523.3 326.2Q522.6 326.5 521.3 325.7L519.5 324.5Q518.2 323.7 519.0 322.5L519.9 320.9Q520.7 319.7 522.0 320.4Z"/><path d="M524.3 326.0Q525.1 325.7 525.1 328.2L525.1 331.4Q525.1 333.9 524.0 333.4L522.6 332.8Q521.6 332.3 521.2 331.6L520.6 330.7Q520.2 330.0 520.9 329.0L521.8 327.6Q522.6 326.6 523.3 326.3Z"/><path d="M524.0 333.5Q525.1 334.0 525.1 335.3L525.1 337.1Q525.1 338.5 523.5 338.7L521.5 339.1Q520.0 339.3 519.5 338.4L518.8 337.2Q518.2 336.3 519.2 335.2L520.6 333.6Q521.6 332.4 522.6 332.9Z"/><path d="M523.6 338.8Q525.1 338.6 525.1 340.7L525.1 343.7Q525.1 345.9 523.7 346.0L521.8 346.2Q520.4 346.3 520.1 344.6L519.7 342.2Q519.3 340.5 519.5 340.2L519.8 339.7Q520.0 339.4 521.5 339.1Z"/><path d="M523.6 346.1Q525.1 345.9 525.1 348.0L525.1 350.8Q525.1 352.8 523.8 352.3L522.0 351.6Q520.7 351.1 520.6 349.8L520.3 348.0Q520.2 346.6 521.7 346.4Z"/><path d="M523.7 352.4Q525.0 352.9 525.0 353.5L525.0 354.2Q525.0 354.8 523.5 355.6L521.4 356.6Q519.8 357.4 519.3 356.2L518.7 354.6Q518.3 353.3 519.0 352.7L520.0 351.9Q520.7 351.2 522.0 351.7Z"/><path d="M523.5 355.6Q525.1 354.8 525.1 357.0L525.1 360.0Q525.1 362.2 524.0 362.2L522.6 362.2Q521.5 362.2 521.0 360.8L520.3 358.9Q519.8 357.5 521.4 356.7Z"/><path d="M524.0 362.3Q525.1 362.3 525.1 364.4L525.1 367.2Q525.1 369.3 523.7 369.0L521.9 368.7Q520.6 368.5 520.5 367.1L520.4 365.1Q520.3 363.7 520.7 363.3L521.2 362.7Q521.5 362.3 522.6 362.3Z"/><path d="M523.7 369.1Q525.1 369.4 525.1 371.3L525.1 373.9Q525.1 375.8 524.0 375.4L522.5 374.9Q521.5 374.5 521.2 372.8L520.8 370.4Q520.6 368.6 521.9 368.9Z"/><path d="M524.0 375.5Q525.0 375.9 525.1 377.5L525.1 379.6Q525.1 381.2 524.0 381.2L522.7 381.3Q521.7 381.4 520.5 379.6L518.8 377.3Q517.6 375.6 518.8 375.3L520.3 374.9Q521.5 374.7 522.5 375.0Z"/><path d="M524.0 381.3Q525.1 381.3 525.1 383.3L525.1 386.1Q525.1 388.2 523.2 388.1L520.8 388.1Q519.0 388.1 518.9 386.5L518.8 384.4Q518.7 382.8 519.6 382.4L520.8 381.9Q521.7 381.5 522.7 381.4Z"/><path d="M523.2 388.2Q525.0 388.3 525.1 389.7L525.1 391.7Q525.1 393.2 523.9 393.4L522.4 393.6Q521.3 393.7 520.4 392.2L519.2 390.2Q518.3 388.8 518.5 388.6L518.8 388.4Q519.0 388.2 520.8 388.2Z"/><path d="M523.9 393.5Q525.1 393.3 525.1 395.3L525.1 398.0Q525.1 400.1 523.7 400.2L522.0 400.4Q520.7 400.5 520.0 399.0L519.2 397.1Q518.6 395.7 519.4 395.1L520.5 394.4Q521.3 393.8 522.4 393.7Z"/><path d="M523.7 400.3Q525.1 400.2 525.1 402.6L525.1 405.8Q525.1 408.2 524.3 408.2L523.2 408.3Q522.4 408.4 521.6 407.5L520.4 406.3Q519.6 405.4 519.6 404.2L519.7 402.6Q519.8 401.4 520.1 401.2L520.4 400.8Q520.7 400.6 522.0 400.5Z"/><path d="M524.3 408.3Q525.1 408.3 525.1 410.7L525.1 413.8Q525.1 416.2 524.1 415.8L522.9 415.3Q521.9 414.9 521.5 413.6L520.9 412.0Q520.5 410.8 521.1 410.1L521.9 409.2Q522.5 408.5 523.2 408.4Z"/><path d="M524.1 415.9Q525.0 416.3 525.1 417.5L525.1 419.1Q525.1 420.3 524.3 420.5L523.3 420.8Q522.6 421.0 521.0 419.8L518.8 418.3Q517.2 417.2 518.6 416.5L520.5 415.6Q521.9 415.0 522.9 415.4Z"/><path d="M524.3 420.6Q525.1 420.4 525.1 422.1L525.1 424.5Q525.1 426.3 523.4 426.3L521.3 426.3Q519.7 426.3 519.5 425.8L519.3 425.1Q519.2 424.6 520.2 423.6L521.6 422.1Q522.6 421.1 523.3 420.9Z"/></g>
<g fill="#fff" stroke="#808080" stroke-width="0.62" stroke-linejoin="round"><path d="M559.9 179.6Q559.9 178.5 561.1 178.5L562.7 178.5Q563.9 178.5 563.6 179.7L563.3 181.2Q563.1 182.4 562.1 182.3L560.9 182.1Q559.9 182.0 559.9 181.0Z"/><path d="M563.2 186.4Q562.8 187.6 561.9 188.2L560.8 188.9Q559.9 189.4 559.9 187.2L559.9 184.3Q559.9 182.1 560.9 182.2L562.1 182.4Q563.1 182.5 563.4 182.7L563.8 183.1Q564.1 183.4 563.7 184.6Z"/><path d="M564.0 191.7Q562.3 192.6 561.6 192.4L560.7 192.2Q560.0 192.0 560.0 191.2L560.0 190.2Q560.0 189.5 560.8 189.0L561.9 188.3Q562.8 187.7 564.3 188.3L566.3 189.1Q567.9 189.6 566.2 190.5Z"/><path d="M565.0 198.1Q564.7 199.2 563.2 199.5L561.4 199.9Q559.9 200.1 559.9 197.7L559.9 194.5Q559.9 192.1 560.7 192.3L561.6 192.6Q562.3 192.8 563.4 193.6L564.8 194.7Q565.9 195.5 565.5 196.6Z"/><path d="M563.9 205.5Q562.8 205.8 561.9 205.4L560.8 204.7Q560.0 204.2 560.0 203.0L560.0 201.4Q560.0 200.2 561.4 199.9L563.3 199.6Q564.7 199.3 565.2 201.0L566.0 203.2Q566.5 204.9 565.4 205.1Z"/><path d="M561.1 211.0Q559.9 211.4 559.9 209.3L559.9 206.5Q559.9 204.3 560.8 204.8L561.9 205.5Q562.7 205.9 563.1 207.2L563.5 208.8Q563.9 210.0 562.7 210.5Z"/><path d="M564.1 216.3Q563.6 216.5 562.5 216.3L561.0 216.0Q559.9 215.8 559.9 214.5L559.9 212.8Q560.0 211.5 561.1 211.1L562.7 210.6Q563.9 210.1 564.3 210.3L564.7 210.5Q565.1 210.7 565.1 212.2L565.1 214.3Q565.1 215.9 564.7 216.1Z"/><path d="M563.7 221.0Q563.7 222.8 562.6 222.8L561.1 222.7Q559.9 222.6 559.9 220.6L559.9 217.9Q559.9 215.9 561.0 216.1L562.5 216.4Q563.6 216.6 563.6 218.5Z"/><path d="M564.3 226.3Q564.2 227.5 563.0 227.7L561.2 227.9Q559.9 228.1 559.9 226.5L559.9 224.3Q559.9 222.7 561.1 222.8L562.6 222.9Q563.7 222.9 563.9 223.1L564.2 223.3Q564.4 223.4 564.3 224.6Z"/><path d="M564.2 231.0Q563.8 231.9 562.6 232.4L561.1 233.0Q559.9 233.5 559.9 231.9L559.9 229.8Q559.9 228.2 561.2 228.0L563.0 227.8Q564.2 227.6 564.5 228.0L564.8 228.4Q565.0 228.8 564.7 229.7Z"/><path d="M565.3 236.1Q564.9 236.8 563.4 236.9L561.4 237.0Q559.9 237.1 560.0 236.0L560.0 234.6Q560.0 233.6 561.1 233.1L562.7 232.5Q563.8 232.0 564.6 232.8L565.6 233.9Q566.4 234.7 565.9 235.3Z"/><path d="M565.9 241.6Q565.4 242.0 563.8 241.4L561.6 240.6Q560.0 240.0 560.0 239.1L560.0 238.0Q560.0 237.2 561.4 237.1L563.4 237.0Q564.9 236.9 565.5 238.0L566.3 239.6Q566.9 240.7 566.5 241.1Z"/><path d="M565.1 244.4Q565.0 245.4 563.5 245.7L561.5 246.1Q559.9 246.5 559.9 244.5L559.9 241.9Q559.9 240.0 561.6 240.6L563.8 241.5Q565.4 242.1 565.3 243.1Z"/><path d="M564.8 249.4Q564.7 251.1 563.3 251.1L561.4 251.0Q559.9 250.9 559.9 249.6L559.9 247.8Q559.9 246.5 561.5 246.2L563.5 245.8Q565.0 245.4 564.9 247.1Z"/><path d="M565.5 255.8Q565.1 257.2 563.5 257.2L561.5 257.2Q559.9 257.2 559.9 255.3L559.9 252.8Q559.9 251.0 561.4 251.1L563.3 251.2Q564.7 251.2 565.3 251.6L566.0 252.0Q566.6 252.4 566.1 253.8Z"/><path d="M565.3 261.5Q565.1 262.9 563.5 263.0L561.5 263.0Q559.9 263.1 559.9 261.3L559.9 259.0Q559.9 257.2 561.5 257.3L563.5 257.3Q565.1 257.3 565.3 257.6L565.6 258.0Q565.9 258.2 565.6 259.6Z"/><path d="M564.6 266.4Q564.4 267.8 563.1 268.1L561.3 268.5Q559.9 268.9 559.9 267.1L559.9 264.9Q559.9 263.1 561.5 263.1L563.5 263.1Q565.1 263.0 564.9 264.5Z"/><path d="M564.5 271.7Q563.7 273.0 562.6 272.8L561.1 272.6Q559.9 272.5 559.9 271.4L560.0 270.0Q560.0 268.9 561.3 268.6L563.1 268.2Q564.4 267.9 565.0 268.1L565.8 268.5Q566.4 268.7 565.6 270.0Z"/><path d="M563.8 277.8Q563.1 279.5 562.1 279.4L560.9 279.1Q559.9 279.0 559.9 277.1L559.9 274.5Q559.9 272.6 561.1 272.7L562.5 272.9Q563.7 273.1 564.2 273.3L564.9 273.7Q565.4 273.9 564.7 275.6Z"/><path d="M564.3 286.4Q563.8 287.2 562.6 287.0L561.1 286.8Q559.9 286.6 559.9 284.3L559.9 281.3Q559.9 279.1 560.9 279.3L562.1 279.5Q563.1 279.6 563.7 279.9L564.5 280.3Q565.1 280.5 565.2 281.7L565.5 283.3Q565.6 284.5 565.1 285.3Z"/><path d="M564.8 291.5Q564.6 292.1 563.2 292.6L561.3 293.2Q559.9 293.6 559.9 291.6L559.9 288.8Q559.9 286.7 561.1 286.9L562.6 287.1Q563.8 287.3 564.2 288.2L564.7 289.3Q565.1 290.2 564.9 290.8Z"/><path d="M565.4 297.4Q564.7 298.0 563.3 298.1L561.4 298.1Q559.9 298.1 559.9 296.8L560.0 295.0Q560.0 293.7 561.4 293.3L563.2 292.7Q564.6 292.2 565.4 293.3L566.3 294.8Q567.1 295.9 566.3 296.6Z"/><path d="M565.0 301.5Q565.2 302.9 563.6 303.0L561.5 303.2Q559.9 303.3 559.9 301.8L559.9 299.7Q559.9 298.2 561.4 298.2L563.3 298.2Q564.7 298.1 564.8 299.6Z"/><path d="M565.6 307.1Q565.2 308.6 563.6 308.3L561.5 307.8Q560.0 307.5 560.0 306.2L560.0 304.6Q560.0 303.4 561.5 303.2L563.6 303.1Q565.2 303.0 565.6 303.2L566.1 303.5Q566.4 303.7 566.1 305.2Z"/><path d="M563.8 312.3Q562.8 313.3 562.0 313.3L560.8 313.4Q559.9 313.4 559.9 311.6L559.9 309.3Q559.9 307.5 561.5 307.9L563.6 308.4Q565.2 308.7 565.4 309.1L565.7 309.5Q566.0 309.9 565.0 310.9Z"/><path d="M564.1 319.1Q563.6 320.3 562.5 320.1L561.0 319.8Q559.9 319.6 559.9 317.8L559.9 315.3Q559.9 313.5 560.8 313.5L561.9 313.4Q562.8 313.4 563.5 314.3L564.5 315.5Q565.2 316.4 564.7 317.6Z"/><path d="M564.3 323.6Q564.6 324.9 563.2 325.5L561.3 326.3Q559.9 326.8 559.9 324.7L559.9 321.8Q559.9 319.7 561.0 319.9L562.5 320.2Q563.6 320.4 563.9 321.8Z"/><path d="M565.6 329.8Q565.5 331.3 563.8 331.1L561.6 330.8Q559.9 330.6 559.9 329.5L560.0 328.0Q560.0 326.9 561.4 326.3L563.2 325.6Q564.6 325.0 565.0 325.4L565.5 325.8Q565.8 326.1 565.7 327.7Z"/><path d="M564.6 334.7Q564.2 336.1 562.9 336.0L561.2 335.8Q559.9 335.7 559.9 334.2L559.9 332.2Q559.9 330.7 561.6 330.9L563.8 331.2Q565.5 331.4 565.1 332.8Z"/><path d="M564.4 341.1Q564.0 342.0 562.8 342.1L561.2 342.2Q559.9 342.3 559.9 340.4L559.9 337.7Q559.9 335.8 561.2 335.9L562.9 336.1Q564.2 336.2 564.6 337.0L565.1 338.1Q565.5 338.9 565.0 339.8Z"/><path d="M565.0 346.9Q564.9 348.3 563.4 348.6L561.4 349.0Q559.9 349.2 559.9 347.2L559.9 344.5Q559.9 342.4 561.2 342.3L562.8 342.2Q564.0 342.1 564.3 342.6L564.8 343.2Q565.2 343.7 565.1 345.1Z"/><path d="M564.8 352.9Q564.3 354.4 563.0 353.9L561.3 353.3Q560.0 352.8 560.0 351.7L560.0 350.3Q560.0 349.3 561.4 349.1L563.4 348.7Q564.9 348.4 565.2 348.8L565.7 349.2Q566.0 349.5 565.5 351.0Z"/><path d="M563.2 357.3Q562.7 358.5 561.9 358.7L560.8 358.9Q559.9 359.1 559.9 357.3L559.9 354.7Q559.9 352.8 561.2 353.3L563.0 354.0Q564.3 354.5 563.8 355.7Z"/><path d="M563.1 364.7Q562.9 364.9 562.0 365.0L560.8 365.1Q559.9 365.2 559.9 363.4L559.9 361.0Q559.9 359.2 560.8 359.0L561.9 358.8Q562.8 358.6 563.3 359.0L564.0 359.6Q564.6 360.0 564.4 361.3L564.0 363.1Q563.8 364.4 563.5 364.5Z"/><path d="M564.7 370.5Q564.3 370.9 563.0 371.0L561.2 371.2Q559.9 371.3 559.9 369.5L559.9 367.1Q559.9 365.3 560.8 365.2L562.0 365.1Q562.9 365.0 563.7 366.4L564.8 368.3Q565.6 369.7 565.2 370.1Z"/><path d="M565.1 376.5Q564.6 377.1 563.2 376.9L561.3 376.8Q559.9 376.6 559.9 375.1L559.9 373.0Q559.9 371.4 561.2 371.3L563.0 371.1Q564.3 371.0 564.9 372.2L565.8 373.9Q566.5 375.1 565.9 375.7Z"/><path d="M564.4 382.5Q563.7 383.6 562.6 383.2L561.1 382.5Q559.9 382.1 559.9 380.5L559.9 378.3Q559.9 376.7 561.3 376.9L563.2 377.0Q564.5 377.2 565.0 378.0L565.6 379.2Q566.0 380.0 565.3 381.1Z"/><path d="M564.5 388.5Q564.1 389.1 562.9 389.3L561.2 389.5Q559.9 389.6 559.9 387.4L559.9 384.4Q559.9 382.2 561.0 382.6L562.5 383.3Q563.7 383.7 564.2 384.8L564.8 386.2Q565.3 387.2 565.0 387.8Z"/><path d="M562.9 395.8Q561.7 396.9 561.2 396.9L560.5 396.8Q559.9 396.8 559.9 394.7L559.9 391.8Q559.9 389.7 561.2 389.6L562.9 389.4Q564.1 389.2 564.6 390.4L565.2 392.0Q565.7 393.2 564.5 394.3Z"/><path d="M563.1 402.3Q562.6 403.4 561.8 403.9L560.7 404.4Q559.9 404.8 559.9 402.5L559.9 399.3Q559.9 396.9 560.5 396.9L561.1 397.0Q561.7 397.0 562.4 397.8L563.4 398.9Q564.1 399.6 563.7 400.8Z"/><path d="M564.6 407.7Q563.6 408.9 562.5 408.5L561.1 407.8Q560.0 407.3 560.0 406.6L560.0 405.6Q560.0 404.9 560.8 404.5L561.8 404.0Q562.6 403.6 563.9 403.9L565.7 404.5Q566.9 404.8 565.9 406.1Z"/><path d="M563.2 413.1Q562.7 414.5 561.8 414.6L560.8 414.7Q559.9 414.8 559.9 412.6L559.9 409.6Q559.9 407.4 561.0 407.9L562.5 408.5Q563.6 409.0 563.8 409.3L564.1 409.7Q564.3 409.9 563.8 411.3Z"/><path d="M564.0 421.5Q563.6 421.9 562.5 421.8L561.0 421.7Q559.9 421.6 559.9 419.6L559.9 416.9Q559.9 414.9 560.8 414.8L561.9 414.7Q562.7 414.6 563.5 415.1L564.7 415.7Q565.6 416.1 565.4 417.5L565.2 419.2Q565.0 420.6 564.6 421.0Z"/><path d="M564.9 425.0Q565.4 426.3 563.8 426.3L561.6 426.3Q559.9 426.3 559.9 424.9L559.9 423.0Q559.9 421.7 561.0 421.8L562.5 421.9Q563.6 422.0 564.1 423.3Z"/><path d="M563.7 179.7Q563.9 178.5 565.6 178.5L567.8 178.5Q569.5 178.5 569.5 180.0L569.5 181.9Q569.4 183.3 567.9 183.3L565.8 183.3Q564.2 183.3 563.9 183.0L563.5 182.7Q563.2 182.4 563.4 181.2Z"/><path d="M567.9 183.4Q569.5 183.4 569.5 185.3L569.5 187.8Q569.5 189.6 569.0 189.6L568.4 189.6Q567.9 189.5 566.4 189.0L564.4 188.2Q562.9 187.7 563.3 186.4L563.8 184.7Q564.2 183.4 565.8 183.4Z"/><path d="M569.0 189.7Q569.5 189.7 569.5 190.8L569.4 192.3Q569.4 193.3 568.4 194.0L567.0 194.8Q565.9 195.4 564.9 194.6L563.5 193.5Q562.4 192.7 564.1 191.8L566.3 190.6Q567.9 189.7 568.4 189.7Z"/><path d="M568.4 194.0Q569.5 193.4 569.5 195.4L569.5 198.1Q569.5 200.1 568.1 199.9L566.4 199.6Q565.0 199.4 565.3 198.2L565.7 196.7Q565.9 195.5 567.0 194.9Z"/><path d="M568.1 200.0Q569.5 200.2 569.5 202.0L569.5 204.4Q569.5 206.2 568.6 205.8L567.5 205.2Q566.6 204.8 566.1 203.2L565.5 201.1Q565.0 199.5 566.4 199.7Z"/><path d="M568.6 205.8Q569.4 206.2 569.4 207.0L569.4 208.1Q569.4 208.9 568.2 209.4L566.5 210.1Q565.2 210.6 564.8 210.4L564.3 210.2Q563.9 210.0 563.6 208.8L563.2 207.2Q562.8 205.9 563.9 205.6L565.4 205.2Q566.6 204.9 567.4 205.3Z"/><path d="M568.2 209.5Q569.5 209.0 569.5 211.4L569.5 214.5Q569.5 216.9 568.2 216.6L566.5 216.2Q565.2 215.8 565.2 214.3L565.2 212.2Q565.2 210.7 566.5 210.2Z"/><path d="M568.2 216.7Q569.5 217.0 569.5 218.5L569.5 220.6Q569.5 222.1 568.0 222.5L566.0 223.0Q564.5 223.3 564.2 223.2L564.0 223.0Q563.8 222.8 563.7 221.0L563.7 218.5Q563.7 216.6 564.1 216.4L564.7 216.2Q565.2 216.0 566.5 216.3Z"/><path d="M568.0 222.5Q569.5 222.2 569.5 224.3L569.5 227.2Q569.5 229.3 568.2 229.1L566.4 228.9Q565.1 228.7 564.9 228.3L564.6 227.9Q564.3 227.5 564.4 226.3L564.4 224.7Q564.5 223.4 566.0 223.0Z"/><path d="M568.2 229.2Q569.5 229.4 569.5 230.8L569.5 232.8Q569.5 234.3 568.5 234.4L567.3 234.5Q566.4 234.6 565.7 233.8L564.6 232.8Q563.9 232.0 564.3 231.0L564.7 229.7Q565.1 228.8 566.4 229.0Z"/><path d="M568.6 234.5Q569.5 234.4 569.5 236.1L569.5 238.5Q569.5 240.2 568.7 240.4L567.7 240.5Q567.0 240.7 566.4 239.5L565.6 238.0Q565.0 236.8 565.4 236.2L566.0 235.3Q566.4 234.7 567.3 234.6Z"/><path d="M568.7 240.5Q569.5 240.3 569.5 242.3L569.5 245.0Q569.5 247.0 568.2 246.5L566.5 245.8Q565.2 245.3 565.3 244.3L565.4 243.1Q565.5 242.1 566.0 241.7L566.5 241.2Q567.0 240.8 567.7 240.6Z"/><path d="M568.1 246.6Q569.4 247.1 569.5 248.4L569.5 250.1Q569.5 251.4 568.6 251.7L567.5 252.0Q566.6 252.3 566.1 252.0L565.4 251.5Q564.8 251.1 564.9 249.4L565.0 247.2Q565.1 245.5 566.4 245.9Z"/><path d="M568.6 251.8Q569.5 251.5 569.5 253.6L569.5 256.5Q569.5 258.6 568.4 258.5L567.0 258.3Q565.9 258.1 565.7 257.9L565.4 257.5Q565.2 257.3 565.6 255.8L566.2 253.9Q566.6 252.4 567.5 252.1Z"/><path d="M568.4 258.6Q569.5 258.7 569.5 260.4L569.5 262.7Q569.5 264.4 568.2 263.9L566.5 263.4Q565.2 262.9 565.4 261.5L565.7 259.6Q565.9 258.2 567.0 258.4Z"/><path d="M568.2 264.0Q569.4 264.4 569.5 265.9L569.5 267.7Q569.5 269.2 568.5 269.0L567.3 268.8Q566.4 268.6 565.8 268.4L565.1 268.0Q564.5 267.8 564.7 266.4L564.9 264.5Q565.1 263.1 566.4 263.5Z"/><path d="M568.5 269.1Q569.5 269.2 569.5 270.6L569.5 272.4Q569.5 273.8 568.3 273.8L566.7 273.8Q565.5 273.8 565.0 273.6L564.3 273.3Q563.8 273.0 564.6 271.7L565.6 270.0Q566.4 268.8 567.3 268.9Z"/><path d="M568.3 273.9Q569.5 273.9 569.5 275.3L569.4 277.1Q569.4 278.4 568.2 279.0L566.4 279.8Q565.2 280.4 564.6 280.2L563.7 279.8Q563.1 279.5 563.8 277.9L564.8 275.6Q565.5 273.9 566.7 273.9Z"/><path d="M568.2 279.1Q569.5 278.5 569.5 280.5L569.5 283.2Q569.5 285.2 568.3 285.0L566.8 284.7Q565.7 284.5 565.5 283.3L565.3 281.7Q565.2 280.5 566.5 279.9Z"/><path d="M568.3 285.1Q569.5 285.3 569.5 286.5L569.5 288.2Q569.5 289.4 568.2 289.6L566.5 289.9Q565.2 290.1 564.8 289.3L564.2 288.1Q563.8 287.3 564.4 286.5L565.1 285.4Q565.7 284.6 566.8 284.8Z"/><path d="M568.2 289.7Q569.5 289.5 569.5 291.5L569.5 294.3Q569.5 296.4 568.8 296.2L567.8 296.0Q567.1 295.9 566.4 294.8L565.4 293.3Q564.7 292.2 564.9 291.6L565.0 290.8Q565.2 290.2 566.5 290.0Z"/><path d="M568.8 296.3Q569.5 296.5 569.5 298.4L569.5 301.1Q569.5 303.0 568.6 303.2L567.4 303.4Q566.5 303.6 566.1 303.4L565.6 303.1Q565.3 302.9 565.1 301.4L564.9 299.5Q564.8 298.1 565.5 297.5L566.4 296.6Q567.1 296.0 567.8 296.1Z"/><path d="M568.6 303.3Q569.5 303.1 569.5 305.5L569.5 308.8Q569.5 311.2 568.4 310.8L567.1 310.3Q566.1 309.8 565.8 309.5L565.5 309.0Q565.3 308.6 565.7 307.2L566.1 305.2Q566.5 303.7 567.4 303.5Z"/><path d="M568.4 310.9Q569.4 311.3 569.4 312.3L569.4 313.5Q569.4 314.5 568.2 315.0L566.5 315.8Q565.2 316.3 564.5 315.4L563.6 314.2Q562.9 313.3 563.8 312.3L565.1 311.0Q566.0 309.9 567.1 310.4Z"/><path d="M568.2 315.1Q569.5 314.5 569.5 316.2L569.5 318.5Q569.4 320.2 567.7 320.3L565.5 320.4Q563.8 320.4 564.2 319.2L564.8 317.6Q565.3 316.5 566.5 315.9Z"/><path d="M567.8 320.4Q569.5 320.3 569.5 321.8L569.5 323.8Q569.5 325.4 568.4 325.6L566.9 325.8Q565.9 326.0 565.5 325.7L565.0 325.3Q564.7 325.0 564.4 323.6L564.1 321.8Q563.8 320.5 565.5 320.4Z"/><path d="M568.4 325.6Q569.5 325.4 569.5 327.5L569.5 330.2Q569.5 332.2 568.3 332.0L566.8 331.7Q565.7 331.5 565.8 329.9L565.8 327.7Q565.9 326.1 567.0 325.9Z"/><path d="M568.3 332.1Q569.5 332.3 569.5 334.1L569.5 336.4Q569.5 338.1 568.3 338.3L566.7 338.6Q565.5 338.8 565.2 338.0L564.7 336.9Q564.3 336.1 564.7 334.8L565.3 333.0Q565.7 331.6 566.8 331.8Z"/><path d="M568.3 338.4Q569.5 338.2 569.5 340.0L569.5 342.4Q569.5 344.1 568.2 344.0L566.5 343.8Q565.3 343.6 564.9 343.1L564.4 342.5Q564.1 342.0 564.5 341.1L565.1 339.9Q565.5 338.9 566.7 338.7Z"/><path d="M568.2 344.1Q569.5 344.2 569.5 345.8L569.5 348.0Q569.5 349.6 568.4 349.5L567.1 349.5Q566.0 349.4 565.7 349.1L565.3 348.7Q565.0 348.4 565.1 347.0L565.2 345.1Q565.2 343.7 566.5 343.9Z"/><path d="M568.4 349.6Q569.5 349.6 569.5 351.6L569.5 354.2Q569.5 356.2 568.1 355.6L566.2 354.8Q564.9 354.2 565.2 352.8L565.7 350.9Q566.0 349.5 567.1 349.6Z"/><path d="M567.9 355.8Q569.4 356.3 569.4 357.2L569.4 358.5Q569.4 359.4 568.0 359.6L566.1 359.8Q564.7 359.9 564.1 359.5L563.4 358.9Q562.8 358.5 563.3 357.3L563.9 355.7Q564.4 354.5 565.9 355.0Z"/><path d="M568.0 359.6Q569.5 359.5 569.5 361.1L569.5 363.2Q569.5 364.9 567.8 364.7L565.6 364.5Q563.9 364.4 564.1 363.1L564.4 361.3Q564.7 360.0 566.1 359.9Z"/><path d="M567.8 364.8Q569.4 364.9 569.4 366.1L569.4 367.6Q569.5 368.7 568.3 369.0L566.8 369.4Q565.6 369.7 564.8 368.2L563.7 366.4Q562.9 364.9 563.2 364.8L563.6 364.6Q563.9 364.4 565.5 364.6Z"/><path d="M568.3 369.1Q569.5 368.8 569.5 370.5L569.5 372.8Q569.5 374.5 568.6 374.6L567.4 374.9Q566.6 375.1 565.9 373.8L565.0 372.2Q564.4 371.0 564.7 370.6L565.3 370.1Q565.7 369.8 566.8 369.5Z"/><path d="M568.6 374.7Q569.5 374.5 569.5 376.4L569.5 378.9Q569.5 380.7 568.5 380.5L567.1 380.2Q566.1 379.9 565.7 379.1L565.1 378.0Q564.6 377.1 565.2 376.6L566.0 375.8Q566.6 375.2 567.4 375.0Z"/><path d="M568.5 380.6Q569.5 380.8 569.5 382.5L569.5 384.6Q569.5 386.3 568.2 386.5L566.6 386.9Q565.4 387.2 564.9 386.1L564.2 384.7Q563.7 383.7 564.5 382.6L565.4 381.1Q566.1 380.1 567.1 380.3Z"/><path d="M568.3 386.6Q569.5 386.4 569.5 389.0L569.5 392.4Q569.5 395.0 568.4 394.5L566.9 393.7Q565.8 393.1 565.3 392.0L564.7 390.4Q564.2 389.2 564.6 388.6L565.1 387.8Q565.4 387.3 566.6 387.0Z"/><path d="M568.4 394.5Q569.4 395.1 569.4 396.4L569.5 398.2Q569.5 399.5 567.9 399.5L565.8 399.6Q564.2 399.6 563.5 398.8L562.5 397.7Q561.7 397.0 563.0 395.8L564.6 394.4Q565.8 393.3 566.9 393.8Z"/><path d="M567.9 399.6Q569.5 399.6 569.5 401.0L569.5 403.0Q569.5 404.4 568.7 404.5L567.7 404.7Q567.0 404.8 565.7 404.4L564.0 403.9Q562.7 403.5 563.1 402.3L563.8 400.8Q564.2 399.7 565.8 399.6Z"/><path d="M568.7 404.6Q569.5 404.5 569.5 406.4L569.5 409.0Q569.5 410.9 567.9 410.6L565.9 410.2Q564.4 409.9 564.2 409.6L563.9 409.2Q563.7 409.0 564.7 407.8L566.0 406.1Q567.0 404.9 567.7 404.8Z"/><path d="M567.9 410.7Q569.5 411.0 569.4 412.0L569.4 413.3Q569.4 414.3 568.3 414.8L566.8 415.5Q565.6 416.0 564.8 415.6L563.6 415.0Q562.7 414.6 563.2 413.2L563.9 411.3Q564.4 409.9 565.9 410.3Z"/><path d="M568.3 414.9Q569.5 414.3 569.5 416.4L569.5 419.0Q569.5 421.1 568.1 420.9L566.4 420.7Q565.1 420.6 565.2 419.3L565.5 417.5Q565.6 416.1 566.8 415.6Z"/><path d="M568.1 421.0Q569.5 421.1 569.5 422.7L569.5 424.7Q569.5 426.3 568.3 426.3L566.7 426.2Q565.5 426.2 564.9 425.0L564.2 423.3Q563.6 422.0 564.1 421.6L564.6 421.1Q565.1 420.7 566.4 420.8Z"/></g>
<g fill="#fff" stroke="#808080" stroke-width="0.62" stroke-linejoin="round"><path d="M524.8 414.8Q524.8 412.6 526.5 412.6L528.8 412.7Q530.5 412.7 530.6 414.5L530.8 416.9Q530.9 418.7 530.6 419.1L530.1 419.6Q529.7 420.0 528.2 419.9L526.3 419.8Q524.8 419.8 524.8 417.6Z"/><path d="M530.7 414.5Q530.5 412.6 532.8 412.6L535.8 412.6Q538.1 412.6 537.8 414.5L537.5 417.0Q537.2 418.9 537.0 419.0L536.7 419.2Q536.5 419.4 534.8 419.2L532.7 418.9Q531.0 418.7 530.9 416.9Z"/><path d="M537.9 414.5Q538.2 412.6 539.9 412.6L542.3 412.6Q544.0 412.6 544.3 414.4L544.7 416.8Q544.9 418.6 544.0 419.1L542.7 419.7Q541.7 420.2 540.4 419.8L538.6 419.3Q537.3 418.9 537.5 417.0Z"/><path d="M544.4 414.4Q544.1 412.6 546.5 412.6L549.6 412.6Q551.9 412.6 551.7 414.4L551.5 416.7Q551.3 418.5 550.1 418.9L548.6 419.5Q547.4 419.9 546.7 419.5L545.8 419.0Q545.0 418.6 544.8 416.8Z"/><path d="M551.8 414.4Q552.0 412.6 553.9 412.6L556.4 412.6Q558.3 412.6 558.1 414.6L557.9 417.3Q557.7 419.3 556.8 419.7L555.7 420.2Q554.8 420.6 553.8 419.9L552.4 419.1Q551.4 418.5 551.6 416.7Z"/><path d="M558.2 414.6Q558.4 412.7 559.0 412.7L559.9 412.7Q560.5 412.7 560.5 415.0L560.5 418.1Q560.5 420.5 559.7 420.1L558.6 419.7Q557.8 419.3 558.0 417.3Z"/><path d="M530.4 424.4Q530.7 426.3 528.9 426.3L526.6 426.3Q524.8 426.3 524.8 424.3L524.8 421.8Q524.8 419.9 526.3 419.9L528.2 420.0Q529.7 420.1 530.0 421.9Z"/><path d="M536.2 424.2Q536.1 426.3 534.5 426.3L532.3 426.2Q530.7 426.2 530.4 424.4L530.1 421.9Q529.8 420.1 530.2 419.7L530.6 419.2Q531.0 418.8 532.7 419.0L534.8 419.3Q536.5 419.5 536.3 421.5Z"/><path d="M541.5 424.5Q541.5 426.3 539.9 426.3L537.8 426.2Q536.2 426.2 536.3 424.2L536.4 421.5Q536.5 419.5 536.8 419.3L537.0 419.1Q537.2 419.0 538.6 419.4L540.3 419.9Q541.7 420.3 541.6 422.1Z"/><path d="M547.6 424.4Q547.6 426.3 545.8 426.3L543.4 426.3Q541.5 426.3 541.6 424.5L541.7 422.1Q541.8 420.3 542.7 419.8L544.0 419.2Q545.0 418.7 545.7 419.1L546.7 419.6Q547.4 420.0 547.4 421.9Z"/><path d="M554.3 424.6Q554.2 426.3 552.2 426.3L549.7 426.3Q547.7 426.3 547.6 424.4L547.5 421.9Q547.5 420.0 548.6 419.6L550.2 419.0Q551.3 418.6 552.4 419.2L553.7 420.0Q554.8 420.7 554.6 422.3Z"/><path d="M559.6 420.2Q560.5 420.6 560.5 422.3L560.5 424.6Q560.5 426.3 558.6 426.3L556.1 426.3Q554.2 426.3 554.4 424.6L554.7 422.3Q554.9 420.7 555.7 420.3L556.9 419.8Q557.8 419.4 558.6 419.8Z"/></g>
<rect x="527.2" y="169" width="31.2" height="243.4" fill="#fff"/>
<rect x="527.2" y="200.5" width="31.2" height="20" fill="#e2eef9"/>
<rect x="527.2" y="220.3" width="31.2" height="192" fill="#cde3f5"/>
<rect x="524.8" y="169" width="2.4" height="250.5" fill="#cfd5da" stroke="#484848" stroke-width="0.65"/>
<rect x="558.4" y="169" width="2.1" height="250.5" fill="#cfd5da" stroke="#484848" stroke-width="0.65"/>
<path d="M524.8 412.4H560.5" stroke="#444" stroke-width="1.2"/>
<rect x="529.8000000000001" y="407.2" width="26.2" height="3.2" fill="url(#hatch2)" stroke="#555" stroke-width="0.5"/>
<rect x="506.4" y="173.8" width="18.4" height="3.7" fill="url(#hatch2g)"/>
<path d="M506.4 173.8H524.8" stroke="#3a3a3a" stroke-width="1"/>
<rect x="560.5" y="173.8" width="107.1" height="3.7" fill="url(#hatch2g)"/>
<path d="M560.5 173.8H667.6" stroke="#3a3a3a" stroke-width="1"/>
<rect x="517.6" y="163.2" width="48.7" height="6.4" rx="1" fill="#fff" stroke="#444" stroke-width="1"/>
<path d="M606.7 173.7V76.5Q606.7 72.5 611 70.5Q618 66.6 628.5 65.5Q639 66.6 646 70.5Q650.3 72.5 650.3 76.5V153.7Q648 161 628.5 162.6Q609.5 161 606.7 153.7" fill="#fff" stroke="#444" stroke-width="1"/>
<path d="M606.7 74.7H650.3M606.7 153.7H650.3" stroke="#666" stroke-width="0.7"/>
<path d="M606.8 173.7H612L619.8 161M631.2 160.6L634.3 173.7" stroke="#444" stroke-width="0.9" fill="none"/>
<rect x="635.2" y="154.4" width="7.6" height="19.3" fill="#fff" stroke="#444" stroke-width="0.9"/>
<path d="M627.6 66.5V133M629.5 66.5V133" stroke="#777" stroke-width="0.6" stroke-dasharray="2.2 1.5"/>
<path d="M628 163v2.6l1.4 0.6" stroke="#555" stroke-width="0.7" fill="none"/>
<rect x="643.9" y="90" width="1.9" height="39.5" fill="#fff" stroke="#8a8a8a" stroke-width="0.55"/><rect x="641.8" y="88.2" width="5.6" height="2.8" rx="1" fill="#fff" stroke="#6a6a6a" stroke-width="0.6"/><rect x="641.8" y="128.3" width="5.6" height="2.8" rx="1" fill="#fff" stroke="#6a6a6a" stroke-width="0.6"/>
<circle cx="613" cy="122.2" r="2.7" fill="#fff" stroke="#444" stroke-width="0.8"/><path d="M613 125v2.6q0 1 1.2 1h1.6" stroke="#555" stroke-width="1" fill="none"/>
<path d="M625.9 65.8V63.3H623.5L622.7 61.5V60L624 58.8H626.5V54.6H627.2V52.6H629.6V54.6H630.2V58.8H632.6V56H634.6V60.2H633.5V61.5L632.6 63.3H630.7V65.8" fill="#fff" stroke="#444" stroke-width="0.8"/><path d="M626.5 58.8H630.2M625.9 63.3H630.7" stroke="#444" stroke-width="0.6"/>
<circle cx="614.2" cy="67.4" r="0.9" fill="#fff" stroke="#555" stroke-width="0.5"/>
<rect x="652" y="140" width="6" height="5.8" fill="#fff" stroke="#555" stroke-width="0.8"/><rect x="650.4" y="138.6" width="2.4" height="8.8" rx="0.8" fill="#e5e5e5" stroke="#555" stroke-width="0.7"/>
<path d="M660.6 141.2h3v-1.8l4 3.4l-4 3.4v-1.8h-3Z" fill="#111"/>
<path d="M524.5 91.7H537.4V52.1H628.6V53M524.5 97.8H576.8V89.5M576.8 74.3V64.5H623.4V60.8M524.5 104.6H592.4V131.8H598.5M524.5 116H531.4V118" stroke="#333" stroke-width="1.15" fill="none"/>
<rect x="567.3" y="74.3" width="18.6" height="15.2" fill="#fff" stroke="#555" stroke-width="1"/>
<rect x="598.4" y="127.6" width="5.4" height="5.2" rx="1" fill="#fff" stroke="#444" stroke-width="0.8"/><circle cx="601.4" cy="130.6" r="1.2" fill="none" stroke="#555" stroke-width="0.5"/><rect x="603.8" y="128.6" width="3" height="2.6" fill="#fff" stroke="#555" stroke-width="0.6"/>
<path d="M531.4 116V184" stroke="#2a2a2a" stroke-width="1.15" fill="none"/>
<path d="M531.3 183.6l0.9 3.4v4l-0.9 1l-0.9-1v-4Z" fill="#999" stroke="#333" stroke-width="0.5"/>
<path d="M531.3 192V213.2Q531.3 214.8 530.2 214.8Q529.1 214.8 529.1 213.2V209.5" stroke="#333" stroke-width="0.8" fill="none"/>
<path d="M531.4 227.6V233Q531.4 234.4 532.4 234.4Q533.4 234.4 533.4 233V229" stroke="#555" stroke-width="0.8" fill="none"/>
<path d="M549.3 170V235" stroke="#222" stroke-width="1.15"/><rect x="548.5" y="176" width="1.6" height="6" fill="#555"/><circle cx="549.3" cy="169.3" r="0.9" fill="#333"/>
<path d="M540.9 234.6V150Q540.9 140.3 550.5 140.3H553.4V145.5H551Q547 145.5 547 150V234.6" fill="#fff" stroke="#555" stroke-width="0.9"/>
<rect x="539" y="150.8" width="10" height="2" fill="#ccc" stroke="#555" stroke-width="0.6"/>
<rect x="539.8" y="189.5" width="8.2" height="2.4" fill="#ddd" stroke="#555" stroke-width="0.6"/>
<rect x="555" y="140.3" width="50" height="5.3" fill="#fff" stroke="#555" stroke-width="0.9"/>
<rect x="553.4" y="138.2" width="2.3" height="9.6" rx="0.8" fill="#d5d5d5" stroke="#555" stroke-width="0.7"/>
<rect x="562.2" y="138.2" width="2.3" height="9.6" rx="0.8" fill="#d5d5d5" stroke="#555" stroke-width="0.7"/>
<rect x="573.3" y="138.2" width="2.3" height="9.6" rx="0.8" fill="#d5d5d5" stroke="#555" stroke-width="0.7"/>
<rect x="584.6" y="138.2" width="2.3" height="9.6" rx="0.8" fill="#d5d5d5" stroke="#555" stroke-width="0.7"/>
<rect x="604.6" y="138.2" width="2.3" height="9.6" rx="0.8" fill="#d5d5d5" stroke="#555" stroke-width="0.7"/>
<path d="M557.2 134V140.3" stroke="#555" stroke-width="1.4"/><circle cx="557.2" cy="131.1" r="3.1" fill="#fff" stroke="#444" stroke-width="0.9"/><circle cx="557.2" cy="131.1" r="1.6" fill="none" stroke="#777" stroke-width="0.5"/>
<circle cx="568.6" cy="142.8" r="4.4" fill="#fff" stroke="#555" stroke-width="0.9"/><path d="M566 140Q569.3 138 572 141" stroke="#555" stroke-width="0.7" fill="none"/>
<path d="M577.7 140Q577.7 136 579 135.8H581Q582.3 136 582.3 140V145Q582.3 147.2 580 147.2Q577.7 147.2 577.7 145Z" fill="#fff" stroke="#555" stroke-width="0.9"/><path d="M580 135.8V131.3" stroke="#555" stroke-width="1.5"/><rect x="575.4" y="130" width="9.4" height="1.7" rx="0.6" fill="#444"/>
<path d="M594 142.9h2.4v-1.7l2.6 1.7l-2.6 1.8v-1.8Z" fill="#111" stroke="#111" stroke-width="0.6"/>
<path d="M524.5 111.1H535.3V234" stroke="#1b75bb" stroke-width="1.5" fill="none"/>
<rect x="534.6" y="127.4" width="1.4" height="1.6" fill="#fff"/>
<rect x="534.6" y="222.9" width="15.6" height="2.6" fill="#e4e4e4" stroke="#888" stroke-width="0.5"/>
<rect x="499.9" y="86.6" width="24.6" height="33.3" rx="1.4" fill="#fff" stroke="#505050" stroke-width="1.15"/>
<rect x="503.09999999999997" y="89.5" width="18.0" height="2.2" fill="#3a3a3a"/>
<rect x="513.0" y="92.6" width="8" height="0.8" fill="#888"/>
<rect x="507.3999999999999" y="99.89999999999999" width="9.2" height="9" fill="#fff" stroke="#555" stroke-width="0.7"/>
<circle cx="511.99999999999994" cy="103.19999999999999" r="2.3" fill="#fff" stroke="#444" stroke-width="0.8"/>
<path d="M511.99999999999994 102.6V109.19999999999999" stroke="#444" stroke-width="1.3"/>
<circle cx="507.8999999999999" cy="113.1" r="1.1" fill="#fff" stroke="#555" stroke-width="0.6"/>
<circle cx="516.0999999999999" cy="113.1" r="1.1" fill="#fff" stroke="#555" stroke-width="0.6"/>
<circle cx="521.9" cy="101.1" r="0.65" fill="#fff" stroke="#555" stroke-width="0.4"/>
<circle cx="501.9" cy="117.99999999999999" r="0.45" fill="#555"/><circle cx="522.5" cy="117.99999999999999" r="0.45" fill="#555"/>
<path d="M535.3 246.5V240Q535.3 235.2 538.8 234.8H548.8Q552.3 235.2 552.3 240V246.5Z" fill="#777" stroke="#333" stroke-width="0.9"/>
<path d="M536.3 238.2H551.3M535.8 240.6H551.8M535.8 243H551.8" stroke="#ddd" stroke-width="0.8"/>
<path d="M535.8 245.3H551.8" stroke="#222" stroke-width="1.2"/>
<rect x="535.3" y="246.5" width="17" height="80.5" fill="url(#silver)" stroke="#383838" stroke-width="1"/>
<path d="M541.5999999999999 258.6Q546.4 256 546.4 251.6Q548.8 256.4 542.1999999999999 261ZM539.1999999999999 263.8Q545.0 262.59999999999997 547.6999999999999 258.59999999999997L547.6999999999999 261.3Q545.0 265.4 539.1999999999999 266.5ZM539.1999999999999 268.0Q545.0 266.79999999999995 547.6999999999999 262.79999999999995L547.6999999999999 265.5Q545.0 269.59999999999997 539.1999999999999 270.7ZM539.1999999999999 272.20000000000005Q545.0 271.0 547.6999999999999 267.0L547.6999999999999 269.70000000000005Q545.0 273.8 539.1999999999999 274.90000000000003ZM539.5 276.3Q544.5999999999999 275.3 547.4 271.4L547.1999999999999 274Q544.4 277.8 541.1999999999999 277.6Z" fill="#1d3f96"/>
<path d="M538.4 282.6l1.2-2.6h9.8l-1.2 2.6Z" fill="#d8232a"/>
<rect x="539.4" y="287" width="8" height="1.3" fill="#3b6fc0"/>
<rect x="535.3" y="327" width="17" height="7.6" fill="#1d1d1d" stroke="#222" stroke-width="0.8"/>
<rect x="541.0999999999999" y="328.4" width="5" height="5.4" fill="#c4c4c4"/><rect x="543.4" y="328.4" width="0.8" height="5.4" fill="#888"/>
<path d="M529.9 329l4.6 2.3l-4.6 2.4l0.8-2.4Z" fill="#111" stroke="#111" stroke-width="0.5" stroke-linejoin="round"/><path d="M557.6999999999999 329l-4.6 2.3l4.6 2.4l-0.8-2.4Z" fill="#111" stroke="#111" stroke-width="0.5" stroke-linejoin="round"/>
<rect x="535.9" y="334.6" width="15.8" height="59.4" fill="url(#silver)" stroke="#383838" stroke-width="1"/>
<path d="M535.9 339H551.6999999999999M535.9 345H551.6999999999999M535.9 376.5H551.6999999999999M535.9 391.6H551.6999999999999" stroke="#666" stroke-width="0.7"/>
<path d="M538.60 378.5V390.5M540.35 378.5V390.5M542.10 378.5V390.5M543.85 378.5V390.5M545.60 378.5V390.5M547.35 378.5V390.5M549.10 378.5V390.5" stroke="#8a8a8a" stroke-width="0.9"/>
<rect x="537.5" y="377.5" width="12.6" height="13.6" fill="none" stroke="#777" stroke-width="0.5"/>
<path d="M543.8 229l2.2 2.4h-1.2v2.4h-2v-2.4h-1.2Z" fill="#111"/>
<path d="M527.2 200.5H585.5" stroke="#1c1c1c" stroke-width="1"/><path d="M587.5 200.5l-3.8-1.7v3.4Z" fill="#1c1c1c"/>
<path d="M527.2 220.5H585.5" stroke="#1c1c1c" stroke-width="1"/><path d="M587.5 220.5l-3.8-1.7v3.4Z" fill="#1c1c1c"/>
<text x="593.7" y="204.1" font-size="10" font-weight="bold" fill="#1d3788" textLength="78.1" lengthAdjust="spacingAndGlyphs">статичний рівень</text>
<text x="593.7" y="223.7" font-size="10" font-weight="bold" fill="#1d3788" textLength="86.2" lengthAdjust="spacingAndGlyphs">динамічний рівень</text>
<path d="M503.4 220.5H524.8M503.4 235.3H535.3M503.4 394.2H535.3M503.4 411.6H524.8" stroke="#555" stroke-width="0.6"/>
<path d="M505.5 211.5V220.5M505.5 235.3V284M505.5 354V394.2M505.5 411.6V420.8" stroke="#333" stroke-width="0.7"/>
<path d="M505.5 219.9l-1.3-4.4h2.6ZM505.5 236l-1.3 4.4h2.6ZM505.5 392.8l-1.3-4.4h2.6ZM505.5 413.2l-1.3 4.4h2.6Z" fill="#222"/>
<text transform="translate(504.1 281.4) rotate(-90)" font-size="7.9" font-weight="bold" fill="#222" stroke="#222" stroke-width="0.2" textLength="38.2" lengthAdjust="spacingAndGlyphs">мін. 50 см</text>
<text transform="translate(504.1 387.3) rotate(-90)" font-size="7.9" font-weight="bold" fill="#222" stroke="#222" stroke-width="0.2" textLength="31.8" lengthAdjust="spacingAndGlyphs">мін. 1 м</text>
<text x="478.7" y="87.3" font-size="8.4" font-weight="bold" text-anchor="middle" fill="#222" stroke="#222" stroke-width="0.25">9</text>
<path d="M485 88.3L505.5 97.8" stroke="#555" stroke-width="0.6" fill="none"/>
<text x="550.2" y="87" font-size="8.4" font-weight="bold" text-anchor="middle" fill="#222" stroke="#222" stroke-width="0.25">12</text>
<path d="M557.4 84L570.3 81" stroke="#555" stroke-width="0.6" fill="none"/>
<text x="596.5" y="91.8" font-size="8.4" font-weight="bold" text-anchor="middle" fill="#222" stroke="#222" stroke-width="0.25">11</text>
<path d="M596.8 94L601 127.5" stroke="#555" stroke-width="0.6" fill="none"/>
<text x="550" y="117" font-size="8.4" font-weight="bold" text-anchor="middle" fill="#222" stroke="#222" stroke-width="0.25">8</text>
<path d="M546.9 117.8L536.2 128" stroke="#555" stroke-width="0.6" fill="none"/>
<text x="571.8" y="117" font-size="8.4" font-weight="bold" text-anchor="middle" fill="#222" stroke="#222" stroke-width="0.25">5</text>
<path d="M568.7 119L559 128.8" stroke="#555" stroke-width="0.6" fill="none"/>
<text x="672.2" y="88.9" font-size="8.4" font-weight="bold" text-anchor="middle" fill="#222" stroke="#222" stroke-width="0.25">10</text>
<path d="M666 85.6L640.3 83.8" stroke="#555" stroke-width="0.6" fill="none"/>
<circle cx="640.3" cy="83.8" r="0.6" fill="#666"/>
<text x="502" y="145.8" font-size="8.4" font-weight="bold" text-anchor="middle" fill="#222" stroke="#222" stroke-width="0.25">4</text>
<path d="M506.7 146.7L535 162.6" stroke="#555" stroke-width="0.6" fill="none"/>
<text x="575.8" y="168.4" font-size="8.4" font-weight="bold" text-anchor="middle" fill="#222" stroke="#222" stroke-width="0.25">6</text>
<path d="M573.5 160.6L567.4 147.4" stroke="#555" stroke-width="0.6" fill="none"/>
<text x="596.4" y="168.4" font-size="8.4" font-weight="bold" text-anchor="middle" fill="#222" stroke="#222" stroke-width="0.25">7</text>
<path d="M593 160.6L580.7 146.6" stroke="#555" stroke-width="0.6" fill="none"/>
<text x="478.7" y="186" font-size="8.4" font-weight="bold" text-anchor="middle" fill="#222" stroke="#222" stroke-width="0.25">3</text>
<path d="M485 188.7L528.6 209" stroke="#555" stroke-width="0.6" fill="none"/>
<path d="M485 188.7L528.8 227" stroke="#555" stroke-width="0.6" fill="none"/>
<text x="596.5" y="247" font-size="8.4" font-weight="bold" text-anchor="middle" fill="#222" stroke="#222" stroke-width="0.25">2</text>
<path d="M592 242.6L550 224.4" stroke="#555" stroke-width="0.6" fill="none"/>
<text x="596.5" y="304.7" font-size="8.4" font-weight="bold" text-anchor="middle" fill="#222" stroke="#222" stroke-width="0.25">1</text>
<path d="M592 304.6L548.7 308.5" stroke="#555" stroke-width="0.6" fill="none"/>
</svg>
<svg width="704" height="528" viewBox="0 0 704 528" font-family="Liberation Sans, sans-serif"><text transform="translate(44.8 70.3) skewX(-5)" font-size="51.5" font-weight="bold" font-style="italic" fill="#1b3c8e" stroke="#1b3c8e" stroke-width="4.4" stroke-linejoin="miter" textLength="152" lengthAdjust="spacingAndGlyphs">4SR<tspan font-size="40" dy="-7">·</tspan><tspan dy="7">F</tspan></text><text x="205.3" y="38" font-size="6.5" font-weight="bold" fill="#1b3c8e">®</text></svg>
<div class="t" id="sub" style="left:46.3px;top:89.9px;font-size:14px;font-weight:bold;letter-spacing:-0.36px">4" свердловинний насос</div>
<div class="t" id="title" style="left:44.8px;top:145.9px;font-size:22px;font-weight:bold;letter-spacing:-0.52px">СХЕМА МОНТАЖУ</div>
<div class="li" id="li0" style="top:190.2px;letter-spacing:-0.499px">1 - сведловинний насос</div>
<div class="li" id="li1" style="top:209.4px;letter-spacing:-0.272px">2 - хомути кріплення кабеля живлення</div>
<div class="li" id="li2" style="top:228.6px;letter-spacing:-0.475px">3 - датчики контролю рівня води</div>
<div class="li" id="li3" style="top:247.8px;letter-spacing:-0.294px">4 - кронштейн та кріпильний трос</div>
<div class="li" id="li4" style="top:267.1px;letter-spacing:-0.290px">5 - манометр</div>
<div class="li" id="li5" style="top:286.3px;letter-spacing:-0.241px">6 - зворотній клапан</div>
<div class="li" id="li6" style="top:305.5px;letter-spacing:-0.430px">7 - вентиль регулювання подачі</div>
<div class="li" id="li7" style="top:324.8px;letter-spacing:-0.264px">8 - кабель електроживлення</div>
<div class="li" id="li8" style="top:344.0px;letter-spacing:-0.305px">9 - пульт керування</div>
<div class="li" id="li9" style="top:363.2px;letter-spacing:-0.216px">10 - гідроакумулятор</div>
<div class="li" id="li10" style="top:382.4px;letter-spacing:-0.230px">11 - реле тиску</div>
<div class="li" id="li11" style="top:401.7px;letter-spacing:0.011px">12 - електроклапан/електрокомпресор</div>
<div class="ft" id="ft0" style="top:445.9px;letter-spacing:0.141px">Насос 4SR розміщують в свердловинах не менше 4" (100 мм)</div>
<div class="ft" id="ft1" style="top:459.2px;letter-spacing:0.195px">Електронасос опускають в свердловину по обсадній трубі на глибину, яка забезпечує його повне занурення (мінімум 50 см від поверхні води</div>
<div class="ft" id="ft2" style="top:472.6px;letter-spacing:0.182px">та 1 м від дна свердловини), враховуючи, що під час його роботи рівень води в свердловині може падати.</div>
<div class="ft" id="ft3" style="top:485.9px;letter-spacing:0.216px">При розміщенні насоса в свердловині рекомендовано закріплювати його тросом з нержавіючої сталі крізь передбачені для цього вушка на</div>
<div class="ft" id="ft4" style="top:499.2px;letter-spacing:0.370px">напірному корпусі</div>
</div></body></html>
